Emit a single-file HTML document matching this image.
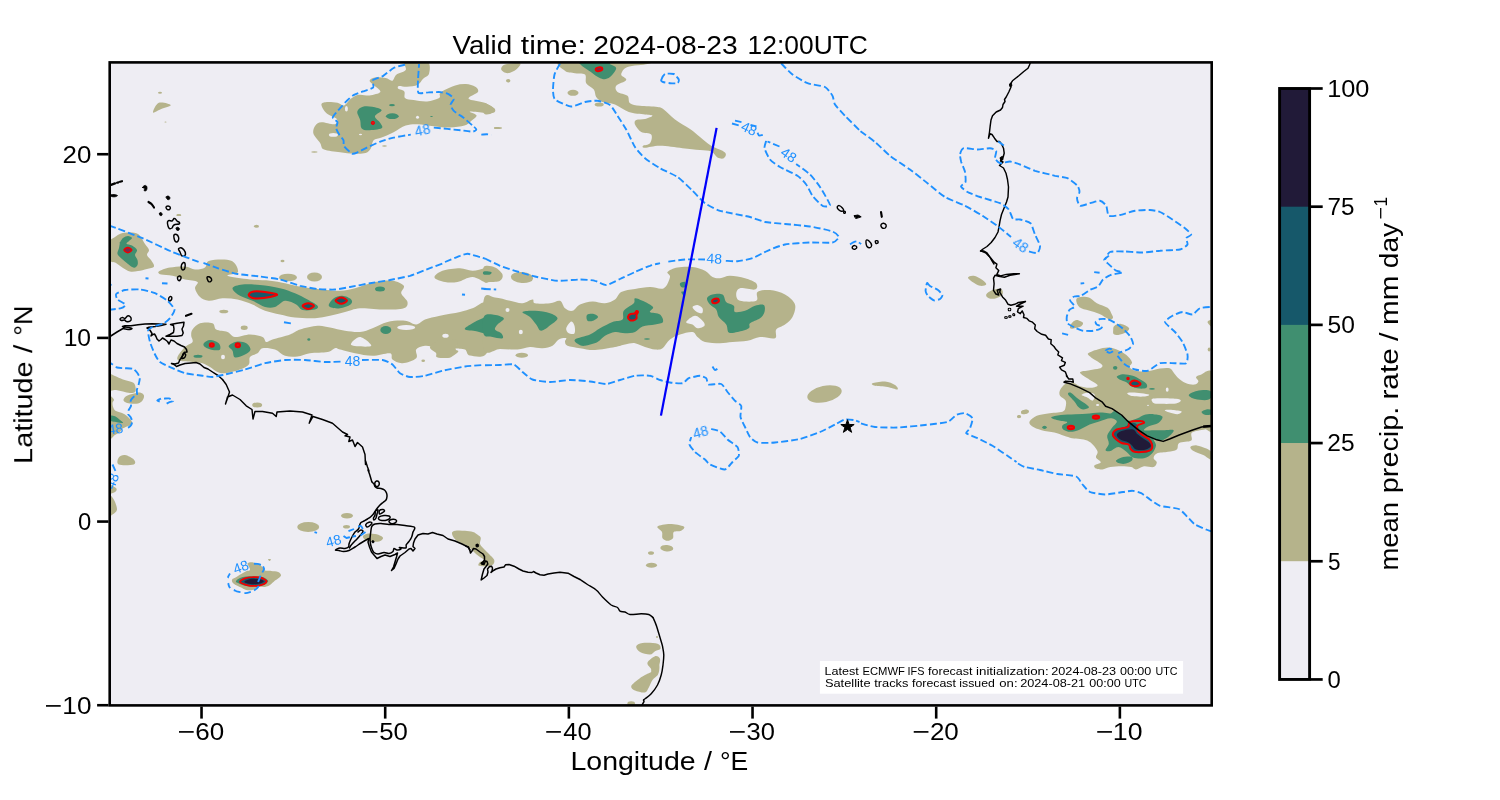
<!DOCTYPE html>
<html><head><meta charset="utf-8"><title>Forecast map</title>
<style>
html,body{margin:0;padding:0;background:#fff;}
body{width:1500px;height:800px;overflow:hidden;font-family:"Liberation Sans",sans-serif;}
svg{display:block;}
svg text{font-family:"Liberation Sans",sans-serif;fill:#000;}
.gt{filter:grayscale(1);}
</style></head><body>
<svg width="1500" height="800" viewBox="0 0 1500 800">
<rect x="0" y="0" width="1500" height="800" fill="#fff"/>
<rect x="109.7" y="62.4" width="1102.0" height="643.0" fill="#eeedf3"/>
<clipPath id="ax"><rect x="109.7" y="62.4" width="1102.0" height="643.0"/></clipPath>
<g clip-path="url(#ax)">
<g id="Lk"><path d="M405.7,61.3C409.3,59.9 423.2,59.3 427.1,61.3C431.0,63.3 429.8,70.5 429.1,73.4C428.4,76.3 425.0,76.8 423.1,78.7C421.2,80.6 420.4,83.4 417.7,84.7C415.1,86.1 410.1,86.5 407.0,86.8C403.9,87.0 400.4,85.8 399.0,86.1C397.5,86.4 397.4,87.9 398.3,88.8C399.2,89.7 403.2,89.9 404.3,91.4C405.5,93.0 403.5,96.7 405.0,98.1C406.6,99.6 410.0,99.6 413.7,100.1C417.4,100.7 422.9,101.8 427.1,101.5C431.3,101.1 437.0,99.5 439.1,98.1C441.2,96.8 438.9,94.8 439.8,93.4C440.7,92.1 441.9,91.4 444.5,90.1C447.0,88.8 451.6,86.4 455.2,85.4C458.8,84.4 462.5,83.9 465.9,84.1C469.2,84.3 473.2,85.4 475.3,86.8C477.3,88.1 479.0,90.1 477.9,92.1C476.8,94.1 467.4,97.0 468.6,98.8C469.7,100.6 480.3,101.1 484.6,102.8C489.0,104.5 493.2,107.2 494.6,108.8C496.1,110.5 495.0,112.2 493.3,112.8C491.6,113.5 488.5,113.1 484.6,112.8C480.7,112.6 471.2,111.1 469.9,111.5C468.6,112.0 476.5,113.8 476.6,115.5C476.7,117.2 472.6,119.9 470.6,121.5C468.6,123.2 468.0,124.5 464.5,125.6C461.1,126.6 455.0,127.4 449.8,127.6C444.7,127.7 439.1,126.8 433.8,126.2C428.4,125.7 422.4,124.3 417.7,124.2C413.0,124.1 409.7,124.2 405.7,125.6C401.7,126.9 397.7,130.2 393.6,132.2C389.6,134.2 384.9,136.3 381.6,137.6C378.3,138.9 375.4,138.5 373.6,140.3C371.8,142.1 372.2,146.2 370.9,148.3C369.6,150.4 368.5,152.1 365.6,153.0C362.7,153.9 357.7,153.8 353.5,153.6C349.3,153.5 345.0,153.0 340.1,152.3C335.2,151.6 327.4,151.2 324.1,149.6C320.7,148.1 321.9,145.6 320.1,142.9C318.3,140.3 314.2,136.5 313.4,133.6C312.6,130.7 314.0,127.4 315.4,125.6C316.7,123.7 318.2,122.4 321.4,122.2C324.6,122.0 332.2,124.8 334.8,124.2C337.3,123.7 338.1,120.6 336.8,118.9C335.5,117.1 329.3,115.9 326.8,113.5C324.2,111.2 321.4,106.7 321.4,104.8C321.4,102.9 324.1,102.5 326.8,102.1C329.4,101.8 334.6,102.3 337.5,102.8C340.4,103.4 341.9,106.2 344.1,105.5C346.4,104.8 348.4,100.6 350.8,98.8C353.3,97.0 355.7,95.3 358.9,94.8C362.0,94.2 366.0,95.9 369.6,95.5C373.1,95.0 379.4,93.7 380.3,92.1C381.2,90.5 376.7,88.0 374.9,86.1C373.1,84.2 369.6,82.2 369.6,80.7C369.6,79.3 372.2,77.8 374.9,77.4C377.6,76.9 382.7,77.5 385.6,78.1C388.5,78.6 390.5,81.3 392.3,80.7C394.1,80.2 394.1,76.5 396.3,74.7C398.6,72.9 404.1,72.3 405.7,70.0C407.2,67.8 402.1,62.8 405.7,61.3Z" fill="#b5b38b"/>
<ellipse cx="314.4" cy="152.0" rx="3.3" ry="0.8" fill="#b5b38b" transform="rotate(0 314.4 152.0)"/>
<ellipse cx="384.5" cy="146.0" rx="2.4" ry="0.8" fill="#b5b38b" transform="rotate(0 384.5 146.0)"/>
<ellipse cx="496.7" cy="128.0" rx="2.9" ry="1.1" fill="#b5b38b" transform="rotate(0 496.7 128.0)"/>
<ellipse cx="160.0" cy="92.8" rx="2.0" ry="1.0" fill="#b5b38b" transform="rotate(0 160.0 92.8)"/>
<path d="M153.0,112.5C152.6,111.5 155.8,104.0 158.8,102.8C161.7,101.5 170.3,104.0 170.8,105.0C171.2,106.0 164.2,107.8 161.2,109.0C158.3,110.2 153.4,113.5 153.0,112.5Z" fill="#b5b38b"/>
<ellipse cx="165.5" cy="122.0" rx="1.0" ry="0.5" fill="#b5b38b" transform="rotate(0 165.5 122.0)"/>
<ellipse cx="178.8" cy="215.0" rx="2.2" ry="1.0" fill="#b5b38b" transform="rotate(0 178.8 215.0)"/>
<ellipse cx="256.5" cy="226.2" rx="2.5" ry="1.5" fill="#b5b38b" transform="rotate(0 256.5 226.2)"/>
<ellipse cx="217.0" cy="261.5" rx="2.0" ry="1.0" fill="#b5b38b" transform="rotate(0 217.0 261.5)"/>
<ellipse cx="282.5" cy="261.0" rx="2.0" ry="1.2" fill="#b5b38b" transform="rotate(0 282.5 261.0)"/>
<path d="M109.0,242.5C110.0,238.8 113.0,238.5 115.0,237.0C117.0,235.5 118.5,234.2 121.0,233.5C123.5,232.8 127.2,232.4 130.0,232.5C132.8,232.6 136.0,232.9 138.0,234.0C140.0,235.1 140.8,237.3 142.0,239.0C143.2,240.7 143.8,242.2 145.0,244.0C146.2,245.8 148.7,248.2 149.0,250.0C149.3,251.8 146.7,253.3 147.0,255.0C147.3,256.7 149.8,258.1 151.0,260.0C152.2,261.9 154.7,265.0 154.0,266.5C153.3,268.0 149.7,268.2 147.0,269.0C144.3,269.8 140.8,270.6 138.0,271.0C135.2,271.4 132.5,272.0 130.0,271.5C127.5,271.0 125.3,269.4 123.0,268.0C120.7,266.6 118.3,264.4 116.0,263.0C113.7,261.6 110.2,262.9 109.0,259.5C107.8,256.1 108.0,246.2 109.0,242.5Z" fill="#b5b38b"/>
<ellipse cx="178.8" cy="215.2" rx="2.5" ry="0.9" fill="#b5b38b" transform="rotate(0 178.8 215.2)"/>
<path d="M563.8,60.8C550.0,62.4 563.1,68.7 565.0,70.8C566.9,72.8 571.7,72.6 575.0,73.2C578.3,73.9 583.1,72.8 585.0,74.5C586.9,76.2 584.8,80.8 586.2,83.2C587.7,85.8 592.1,87.2 593.8,89.5C595.4,91.8 594.8,94.9 596.2,97.0C597.7,99.1 599.4,100.8 602.5,102.0C605.6,103.2 610.6,102.8 615.0,104.5C619.4,106.2 623.8,110.3 628.8,112.0C633.8,113.7 641.0,113.9 645.0,114.5C649.0,115.1 652.5,115.0 652.5,115.8C652.5,116.5 647.7,118.3 645.0,119.0C642.3,119.7 637.9,119.1 636.2,120.0C634.6,120.9 634.2,122.5 635.0,124.5C635.8,126.5 638.5,130.3 641.2,132.0C644.0,133.7 649.8,132.6 651.2,134.5C652.7,136.4 651.4,141.4 650.0,143.2C648.6,145.1 643.8,145.0 643.0,145.8C642.2,146.5 642.2,147.8 645.0,147.8C647.8,147.8 653.8,145.7 660.0,145.8C666.2,145.8 675.8,147.5 682.5,148.2C689.2,149.0 695.2,149.5 700.0,150.0C704.8,150.5 708.3,150.2 711.2,151.5C714.2,152.8 715.4,156.4 717.5,157.5C719.6,158.6 722.5,159.1 723.8,158.2C725.0,157.4 727.1,154.6 725.0,152.5C722.9,150.4 715.4,148.3 711.2,145.8C707.1,143.2 703.5,139.8 700.0,137.0C696.5,134.2 694.2,131.9 690.0,129.0C685.8,126.1 679.4,122.8 675.0,119.5C670.6,116.2 666.7,111.6 663.8,109.5C660.8,107.4 661.5,107.6 657.5,107.0C653.5,106.4 644.6,106.4 640.0,105.8C635.4,105.1 632.1,104.9 630.0,103.2C627.9,101.6 629.6,97.6 627.5,95.8C625.4,93.9 619.4,93.7 617.5,92.0C615.6,90.3 614.8,87.8 616.2,85.8C617.7,83.8 625.4,81.9 626.2,80.0C627.1,78.1 621.0,76.7 621.2,74.5C621.5,72.3 623.1,68.8 627.5,67.0C631.9,65.2 644.2,65.0 647.5,64.0C650.8,63.0 661.5,61.3 647.5,60.8C633.5,60.2 577.5,59.1 563.8,60.8Z" fill="#b5b38b"/>
<path d="M501.2,69.5C500.8,68.0 501.9,65.5 505.0,64.5C508.1,63.5 518.1,62.4 520.0,63.2C521.9,64.1 518.3,67.8 516.2,69.5C514.2,71.2 510.0,73.2 507.5,73.2C505.0,73.2 501.7,71.0 501.2,69.5Z" fill="#b5b38b"/>
<ellipse cx="508.2" cy="80.8" rx="2.2" ry="1.8" fill="#b5b38b" transform="rotate(0 508.2 80.8)"/>
<ellipse cx="573.0" cy="92.8" rx="5.5" ry="3.0" fill="#b5b38b" transform="rotate(0 573.0 92.8)"/>
<path d="M483.8,103.2C485.0,102.1 489.4,105.4 491.2,106.5C493.1,107.6 495.2,108.8 495.0,110.0C494.8,111.2 491.9,113.5 490.0,114.0C488.1,114.5 484.8,115.0 483.8,113.2C482.7,111.5 482.5,104.4 483.8,103.2Z" fill="#b5b38b"/>
<ellipse cx="498.0" cy="128.0" rx="4.0" ry="1.0" fill="#b5b38b" transform="rotate(0 498.0 128.0)"/>
<ellipse cx="599.2" cy="104.5" rx="4.5" ry="2.0" fill="#b5b38b" transform="rotate(0 599.2 104.5)"/>
<path d="M158.8,271.5C160.2,270.3 165.6,268.3 170.0,267.5C174.4,266.7 180.8,266.2 185.0,266.5C189.2,266.8 191.7,269.3 195.0,269.5C198.3,269.7 202.6,269.0 205.0,267.5C207.4,266.0 205.1,261.9 209.5,260.8C213.9,259.6 226.5,258.9 231.2,260.8C236.0,262.6 238.6,269.5 238.0,272.0C237.4,274.5 225.5,274.5 227.5,275.8C229.5,277.0 242.9,278.7 250.0,279.5C257.1,280.3 264.2,280.1 270.0,280.8C275.8,281.4 279.6,282.2 285.0,283.2C290.4,284.3 296.2,286.0 302.5,287.0C308.8,288.0 316.2,288.9 322.5,289.5C328.8,290.1 334.6,291.0 340.0,290.8C345.4,290.5 349.2,289.7 355.0,288.2C360.8,286.8 368.8,283.2 375.0,282.0C381.2,280.8 387.7,280.1 392.5,280.8C397.3,281.4 402.3,283.7 403.8,285.8C405.2,287.8 400.6,290.5 401.2,293.2C401.9,296.0 407.1,299.5 407.5,302.0C407.9,304.5 407.5,307.0 403.8,308.2C400.0,309.5 392.3,309.5 385.0,309.5C377.7,309.5 366.7,307.8 360.0,308.2C353.3,308.7 350.0,310.8 345.0,312.0C340.0,313.2 335.0,314.7 330.0,315.8C325.0,316.8 320.8,318.0 315.0,318.2C309.2,318.5 300.8,318.1 295.0,317.5C289.2,316.9 285.0,315.6 280.0,314.5C275.0,313.4 269.6,312.4 265.0,310.8C260.4,309.1 257.1,306.4 252.5,304.5C247.9,302.6 242.5,300.5 237.5,299.5C232.5,298.5 227.3,298.0 222.5,298.2C217.7,298.5 212.5,301.0 208.8,300.8C205.0,300.5 202.3,299.1 200.0,297.0C197.7,294.9 195.4,290.8 195.0,288.2C194.6,285.8 199.2,283.5 197.5,282.0C195.8,280.5 189.2,280.5 185.0,279.5C180.8,278.5 176.5,276.6 172.5,275.8C168.5,274.9 163.5,275.2 161.2,274.5C159.0,273.8 157.3,272.7 158.8,271.5Z" fill="#b5b38b"/>
<ellipse cx="288.0" cy="277.5" rx="9.0" ry="3.8" fill="#b5b38b" transform="rotate(0 288.0 277.5)"/>
<ellipse cx="314.5" cy="277.0" rx="7.5" ry="4.5" fill="#b5b38b" transform="rotate(0 314.5 277.0)"/>
<path d="M434.5,277.5C434.1,275.6 438.2,272.3 442.5,270.8C446.8,269.2 455.0,268.2 460.0,268.2C465.0,268.2 467.9,270.6 472.5,270.8C477.1,270.9 485.0,267.0 487.5,269.0C490.0,271.0 490.0,281.2 487.5,282.5C485.0,283.8 477.5,277.1 472.5,277.0C467.5,276.9 462.1,281.2 457.5,282.0C452.9,282.8 448.8,282.8 445.0,282.0C441.2,281.2 434.9,279.4 434.5,277.5Z" fill="#b5b38b"/>
<path d="M192.5,329.5C194.0,327.4 196.7,324.3 200.0,323.2C203.3,322.2 209.8,322.2 212.5,323.2C215.2,324.3 213.8,328.0 216.2,329.5C218.8,331.0 224.4,330.8 227.5,332.0C230.6,333.2 231.2,336.6 235.0,337.0C238.8,337.4 245.4,334.5 250.0,334.5C254.6,334.5 259.8,335.8 262.5,337.0C265.2,338.2 264.6,341.6 266.2,342.0C267.9,342.4 268.5,340.8 272.5,339.5C276.5,338.2 285.4,336.2 290.0,334.5C294.6,332.8 295.4,331.0 300.0,329.5C304.6,328.0 312.5,326.1 317.5,325.8C322.5,325.4 325.4,326.7 330.0,327.5C334.6,328.3 340.0,330.0 345.0,330.8C350.0,331.5 355.4,332.4 360.0,332.0C364.6,331.6 367.9,329.9 372.5,328.2C377.1,326.6 382.1,323.2 387.5,322.0C392.9,320.8 400.2,320.3 405.0,320.8C409.8,321.2 412.9,324.7 416.2,324.5C419.6,324.3 421.0,321.0 425.0,319.5C429.0,318.0 434.2,317.0 440.0,315.8C445.8,314.5 454.6,313.2 460.0,312.0C465.4,310.8 467.9,309.4 472.5,308.2C477.1,307.1 485.0,297.8 487.5,305.0C490.0,312.2 490.4,343.1 487.5,351.5C484.6,359.9 473.8,355.8 470.0,355.5C466.2,355.2 467.5,350.7 465.0,349.5C462.5,348.3 456.5,349.3 455.0,348.2C453.5,347.2 458.3,344.3 456.2,343.2C454.2,342.2 445.6,341.4 442.5,342.0C439.4,342.6 440.4,346.4 437.5,347.0C434.6,347.6 428.5,345.3 425.0,345.8C421.5,346.2 417.7,347.4 416.2,349.5C414.8,351.6 418.5,356.0 416.2,358.2C414.0,360.5 406.5,363.0 402.5,363.2C398.5,363.5 394.6,361.2 392.5,359.5C390.4,357.8 393.3,353.9 390.0,353.2C386.7,352.6 378.3,355.8 372.5,355.8C366.7,355.8 360.4,354.3 355.0,353.2C349.6,352.2 343.3,350.3 340.0,349.5C336.7,348.7 337.1,347.8 335.0,348.2C332.9,348.7 331.7,351.2 327.5,352.0C323.3,352.8 315.0,352.5 310.0,353.2C305.0,354.0 301.7,356.1 297.5,356.5C293.3,356.9 288.8,356.9 285.0,355.8C281.2,354.6 278.8,350.8 275.0,349.5C271.2,348.2 265.4,347.6 262.5,348.2C259.6,348.9 259.6,351.8 257.5,353.2C255.4,354.7 251.5,355.1 250.0,357.0C248.5,358.9 250.4,362.4 248.8,364.5C247.1,366.6 244.0,368.0 240.0,369.5C236.0,371.0 228.8,372.8 225.0,373.2C221.2,373.7 220.0,373.0 217.5,372.0C215.0,371.0 212.5,368.5 210.0,367.0C207.5,365.5 205.4,364.1 202.5,363.2C199.6,362.4 196.2,362.4 192.5,362.0C188.8,361.6 182.5,361.6 180.0,360.8C177.5,359.9 176.7,359.3 177.5,357.0C178.3,354.7 182.5,349.5 185.0,347.0C187.5,344.5 191.5,343.9 192.5,342.0C193.5,340.1 191.2,337.8 191.2,335.8C191.2,333.7 191.0,331.6 192.5,329.5Z" fill="#b5b38b"/>
<ellipse cx="223.8" cy="311.5" rx="4.5" ry="1.8" fill="#b5b38b" transform="rotate(0 223.8 311.5)"/>
<ellipse cx="244.2" cy="327.8" rx="3.5" ry="2.2" fill="#b5b38b" transform="rotate(0 244.2 327.8)"/>
<ellipse cx="257.2" cy="405.0" rx="5.0" ry="2.5" fill="#b5b38b" transform="rotate(0 257.2 405.0)"/>
<ellipse cx="423.2" cy="360.8" rx="1.8" ry="1.2" fill="#b5b38b" transform="rotate(0 423.2 360.8)"/>
<path d="M109.0,374.8C110.0,372.6 112.7,375.2 115.0,376.0C117.3,376.8 120.0,378.4 123.0,379.5C126.0,380.6 130.9,381.2 133.0,382.5C135.1,383.8 135.2,385.4 135.5,387.0C135.8,388.6 135.9,391.0 135.0,392.0C134.1,393.0 132.0,393.1 130.0,393.0C128.0,392.9 125.3,392.0 123.0,391.5C120.7,391.0 118.3,390.3 116.0,390.0C113.7,389.7 110.2,392.0 109.0,389.5C107.8,387.0 108.0,377.1 109.0,374.8Z" fill="#b5b38b"/>
<path d="M123.5,399.5C123.8,398.5 124.8,397.0 126.5,396.0C128.2,395.0 131.8,394.1 134.0,393.5C136.2,392.9 138.3,392.2 140.0,392.5C141.7,392.8 143.6,394.2 144.0,395.5C144.4,396.8 143.5,399.2 142.5,400.5C141.5,401.8 140.1,403.0 138.0,403.5C135.9,404.0 132.2,403.8 130.0,403.5C127.8,403.2 126.1,402.7 125.0,402.0C123.9,401.3 123.2,400.5 123.5,399.5Z" fill="#b5b38b"/>
<path d="M109.0,399.0C109.8,392.8 113.4,398.8 114.0,399.5C114.6,400.2 112.6,401.6 112.5,403.0C112.4,404.4 112.9,406.7 113.5,408.0C114.1,409.3 114.6,410.2 116.0,411.0C117.4,411.8 120.2,412.2 122.0,413.0C123.8,413.8 125.4,414.7 127.0,416.0C128.6,417.3 130.7,419.7 131.5,421.0C132.3,422.3 132.8,423.1 132.0,424.0C131.2,424.9 128.7,425.7 127.0,426.5C125.3,427.3 123.2,428.1 122.0,429.0C120.8,429.9 121.2,431.0 120.0,432.0C118.8,433.0 116.8,434.2 115.0,435.0C113.2,435.8 110.0,442.5 109.0,436.5C108.0,430.5 108.2,405.2 109.0,399.0Z" fill="#b5b38b"/>
<path d="M118.8,457.5C119.8,455.9 122.5,454.7 125.0,455.0C127.5,455.3 132.3,457.9 133.8,459.5C135.2,461.1 136.2,463.7 133.8,464.5C131.2,465.3 121.2,465.7 118.8,464.5C116.2,463.3 117.7,459.1 118.8,457.5Z" fill="#b5b38b"/>
<path d="M430.0,347.0C430.7,344.8 435.5,341.2 440.0,340.0C444.5,338.8 454.4,338.5 457.0,340.0C459.6,341.5 455.4,347.1 455.6,349.0C455.8,350.9 458.7,350.2 458.4,351.2C458.1,352.2 455.7,354.1 454.0,355.2C452.3,356.3 450.8,357.7 448.0,358.0C445.2,358.3 439.0,358.0 437.0,357.2C435.0,356.4 437.2,354.7 436.0,353.0C434.8,351.3 429.3,349.2 430.0,347.0Z" fill="#b5b38b"/>
<path d="M483.8,299.5C485.6,290.9 490.6,297.3 495.0,297.5C499.4,297.7 505.4,299.8 510.0,300.8C514.6,301.7 518.8,303.5 522.5,303.2C526.2,303.0 530.4,299.5 532.5,299.5C534.6,299.5 532.1,302.6 535.0,303.2C537.9,303.9 545.8,303.7 550.0,303.2C554.2,302.8 557.5,299.9 560.0,300.8C562.5,301.6 562.9,306.6 565.0,308.2C567.1,309.9 570.0,311.4 572.5,310.8C575.0,310.1 576.7,306.0 580.0,304.5C583.3,303.0 588.3,301.7 592.5,301.5C596.7,301.3 601.2,303.6 605.0,303.2C608.8,302.9 612.3,301.4 615.0,299.5C617.7,297.6 617.9,293.8 621.2,292.0C624.6,290.2 630.2,289.8 635.0,289.0C639.8,288.2 645.2,287.1 650.0,287.0C654.8,286.9 660.4,289.9 663.8,288.2C667.1,286.6 669.4,279.7 670.0,277.0C670.6,274.3 666.2,273.6 667.5,272.0C668.8,270.4 673.3,268.3 677.5,267.5C681.7,266.7 687.9,266.5 692.5,267.0C697.1,267.5 701.7,269.1 705.0,270.8C708.3,272.4 710.0,275.8 712.5,277.0C715.0,278.2 717.1,278.5 720.0,278.2C722.9,278.0 725.8,275.8 730.0,275.8C734.2,275.8 740.6,277.0 745.0,278.2C749.4,279.5 754.6,281.4 756.2,283.2C757.9,285.1 757.7,288.7 755.0,289.5C752.3,290.3 743.1,287.4 740.0,288.2C736.9,289.1 736.2,292.4 736.2,294.5C736.2,296.6 736.7,299.7 740.0,300.8C743.3,301.8 753.3,302.2 756.2,300.8C759.2,299.3 755.2,293.8 757.5,292.0C759.8,290.2 765.4,289.6 770.0,290.0C774.6,290.4 780.8,292.1 785.0,294.5C789.2,296.9 793.8,300.8 795.0,304.5C796.2,308.2 794.2,313.7 792.5,317.0C790.8,320.3 787.7,322.4 785.0,324.5C782.3,326.6 777.9,327.2 776.2,329.5C774.6,331.8 777.7,337.0 775.0,338.2C772.3,339.5 764.6,336.6 760.0,337.0C755.4,337.4 752.1,339.9 747.5,340.8C742.9,341.6 737.1,341.6 732.5,342.0C727.9,342.4 724.6,343.2 720.0,343.2C715.4,343.2 708.8,343.0 705.0,342.0C701.2,341.0 699.6,338.7 697.5,337.0C695.4,335.3 695.4,332.4 692.5,332.0C689.6,331.6 683.8,333.2 680.0,334.5C676.2,335.8 672.9,337.2 670.0,339.5C667.1,341.8 665.0,346.6 662.5,348.2C660.0,349.9 657.9,349.7 655.0,349.5C652.1,349.3 648.3,348.0 645.0,347.0C641.7,346.0 638.3,343.7 635.0,343.2C631.7,342.8 628.3,343.9 625.0,344.5C621.7,345.1 620.0,346.1 615.0,347.0C610.0,347.9 600.8,349.8 595.0,350.0C589.2,350.2 584.6,349.0 580.0,348.2C575.4,347.5 570.0,346.9 567.5,345.8C565.0,344.6 565.2,342.8 565.0,341.5C564.8,340.2 567.3,338.6 566.2,338.2C565.2,337.9 561.0,338.2 558.8,339.5C556.5,340.8 555.2,344.3 552.5,345.8C549.8,347.2 546.2,348.0 542.5,348.2C538.8,348.5 534.2,346.8 530.0,347.0C525.8,347.2 522.5,349.2 517.5,349.5C512.5,349.8 505.6,349.0 500.0,349.0C494.4,349.0 486.5,357.5 483.8,349.2C481.0,341.0 481.9,308.1 483.8,299.5Z" fill="#b5b38b"/>
<path d="M483.8,267.0C485.6,264.8 491.9,266.2 495.0,267.5C498.1,268.8 501.7,272.3 502.5,274.5C503.3,276.7 502.1,279.5 500.0,280.8C497.9,282.0 492.7,282.0 490.0,282.0C487.3,282.0 484.8,283.5 483.8,281.0C482.7,278.5 481.9,269.2 483.8,267.0Z" fill="#b5b38b"/>
<ellipse cx="522.0" cy="277.5" rx="11.2" ry="5.5" fill="#b5b38b" transform="rotate(5 522.0 277.5)"/>
<ellipse cx="521.8" cy="355.2" rx="6.2" ry="2.5" fill="#b5b38b" transform="rotate(0 521.8 355.2)"/>
<ellipse cx="824.5" cy="394.0" rx="17.5" ry="8.2" fill="#b5b38b" transform="rotate(-12 824.5 394.0)"/>
<path d="M968.0,277.5C968.2,276.5 971.3,275.3 973.8,275.8C976.2,276.2 980.4,278.5 982.5,280.0C984.6,281.5 986.7,283.5 986.2,284.5C985.8,285.5 982.3,286.2 980.0,285.8C977.7,285.3 974.5,283.4 972.5,282.0C970.5,280.6 967.8,278.5 968.0,277.5Z" fill="#b5b38b"/>
<path d="M986.2,294.5C986.9,293.1 990.0,290.9 992.5,290.0C995.0,289.1 999.6,288.2 1001.2,289.0C1002.9,289.8 1003.3,293.0 1002.5,294.5C1001.7,296.0 998.5,297.6 996.2,298.2C994.0,298.9 990.4,298.9 988.8,298.2C987.1,297.6 985.6,295.9 986.2,294.5Z" fill="#b5b38b"/>
<path d="M1076.2,299.8C1076.4,298.1 1078.7,297.5 1080.8,297.1C1083.0,296.8 1086.2,296.5 1088.9,297.5C1091.5,298.5 1093.8,301.4 1096.9,303.2C1100.0,304.9 1105.1,306.1 1107.6,307.8C1110.0,309.6 1110.7,312.2 1111.6,313.9C1112.5,315.5 1113.4,317.0 1112.9,317.9C1112.5,318.8 1111.2,319.9 1108.9,319.2C1106.7,318.5 1102.9,315.3 1099.6,313.9C1096.2,312.4 1092.2,311.6 1088.9,310.5C1085.5,309.4 1081.6,309.0 1079.5,307.2C1077.4,305.4 1075.9,301.5 1076.2,299.8Z" fill="#b5b38b"/>
<path d="M1070.1,325.9C1070.5,324.8 1071.7,322.9 1072.8,321.9C1073.9,320.9 1075.2,319.8 1076.8,319.9C1078.5,320.0 1082.1,321.6 1082.8,322.6C1083.6,323.6 1082.7,325.0 1081.5,325.9C1080.3,326.8 1077.3,327.5 1075.5,327.9C1073.7,328.4 1071.7,328.9 1070.8,328.6C1069.9,328.2 1069.8,327.0 1070.1,325.9Z" fill="#b5b38b"/>
<path d="M1113.2,329.9C1113.3,328.6 1113.0,326.9 1114.3,325.9C1115.6,324.9 1118.5,323.6 1121.0,323.9C1123.4,324.2 1128.2,326.5 1129.0,327.9C1129.8,329.4 1127.4,331.4 1125.7,332.6C1123.9,333.8 1120.3,334.8 1118.3,335.0C1116.3,335.2 1114.5,334.8 1113.6,333.9C1112.8,333.1 1113.1,331.3 1113.2,329.9Z" fill="#b5b38b"/>
<path d="M872.5,383.2C874.2,382.5 881.2,381.2 885.0,381.5C888.8,381.8 892.9,383.7 895.0,385.0C897.1,386.3 898.8,389.2 897.5,389.5C896.2,389.8 891.2,387.6 887.5,387.0C883.8,386.4 877.5,386.4 875.0,385.8C872.5,385.1 870.8,384.0 872.5,383.2Z" fill="#b5b38b"/>
<ellipse cx="1025.0" cy="412.0" rx="4.0" ry="2.0" fill="#b5b38b" transform="rotate(-15 1025.0 412.0)"/>
<ellipse cx="1019.2" cy="416.5" rx="1.8" ry="1.5" fill="#b5b38b" transform="rotate(0 1019.2 416.5)"/>
<path d="M1207.5,322.0C1207.5,320.8 1211.7,319.1 1212.5,320.0C1213.3,320.9 1213.3,327.2 1212.5,327.5C1211.7,327.8 1207.5,323.2 1207.5,322.0Z" fill="#b5b38b"/>
<ellipse cx="1209.2" cy="349.5" rx="1.5" ry="2.0" fill="#b5b38b" transform="rotate(0 1209.2 349.5)"/>
<path d="M1088.0,353.4C1089.1,352.1 1094.1,350.4 1097.6,349.4C1101.1,348.4 1105.3,347.3 1108.8,347.5C1112.3,347.6 1115.5,348.9 1118.4,350.2C1121.3,351.5 1124.1,353.0 1126.4,355.0C1128.7,357.0 1131.5,360.2 1132.0,362.2C1132.5,364.2 1128.9,365.5 1129.6,367.0C1130.3,368.5 1132.8,370.3 1136.0,371.0C1139.2,371.7 1144.8,371.4 1148.8,371.0C1152.8,370.6 1156.5,369.1 1160.0,368.6C1163.5,368.1 1167.3,367.6 1169.6,368.3C1171.9,368.9 1172.3,371.1 1173.6,372.6C1174.9,374.1 1175.6,375.7 1177.6,377.4C1179.6,379.1 1182.8,381.8 1185.6,383.0C1188.4,384.2 1192.3,384.9 1194.4,384.6C1196.5,384.3 1198.1,382.6 1198.4,381.4C1198.7,380.2 1195.7,378.5 1196.0,377.4C1196.3,376.3 1197.2,375.5 1200.0,375.0C1202.8,374.5 1210.7,365.4 1212.8,374.2C1214.9,383.0 1214.1,418.6 1212.8,427.8C1211.5,437.0 1208.3,428.6 1204.8,429.4C1201.3,430.2 1194.3,430.7 1192.0,432.6C1189.7,434.5 1193.3,438.9 1191.2,440.6C1189.1,442.3 1181.6,441.5 1179.2,443.0C1176.8,444.5 1178.7,447.9 1176.8,449.4C1174.9,450.9 1171.3,451.1 1168.0,451.8C1164.7,452.5 1159.2,452.3 1156.8,453.4C1154.4,454.5 1153.6,456.7 1153.6,458.2C1153.6,459.7 1156.8,460.7 1156.8,462.2C1156.8,463.7 1155.7,466.3 1153.6,467.0C1151.5,467.7 1146.9,465.8 1144.0,466.2C1141.1,466.6 1138.1,469.3 1136.0,469.4C1133.9,469.5 1133.6,467.5 1131.2,467.0C1128.8,466.5 1125.1,466.2 1121.6,466.2C1118.1,466.2 1113.6,466.5 1110.4,467.0C1107.2,467.5 1104.8,469.1 1102.4,469.4C1100.0,469.7 1097.3,469.3 1096.0,468.6C1094.7,467.9 1093.6,466.5 1094.4,465.4C1095.2,464.3 1100.5,463.5 1100.8,462.2C1101.1,460.9 1096.5,459.1 1096.0,457.4C1095.5,455.7 1098.0,453.8 1097.6,451.8C1097.2,449.8 1095.3,447.3 1093.6,445.4C1091.9,443.5 1089.5,441.7 1087.2,440.6C1084.9,439.5 1082.5,439.4 1080.0,439.0C1077.5,438.6 1074.7,438.7 1072.0,438.2C1069.3,437.7 1066.9,436.7 1064.0,435.8C1061.1,434.9 1058.1,433.5 1054.4,432.6C1050.7,431.7 1045.3,431.3 1041.6,430.2C1037.9,429.1 1034.0,427.7 1032.0,426.2C1030.0,424.7 1028.8,423.1 1029.6,421.4C1030.4,419.7 1033.7,417.1 1036.8,415.8C1039.9,414.5 1043.7,414.1 1048.0,413.4C1052.3,412.7 1059.5,412.9 1062.4,411.8C1065.3,410.7 1065.1,408.9 1065.6,407.0C1066.1,405.1 1066.5,402.5 1065.6,400.6C1064.7,398.7 1060.9,397.5 1060.0,395.8C1059.1,394.1 1059.1,392.2 1060.0,390.2C1060.9,388.2 1063.3,385.0 1065.6,383.8C1067.9,382.6 1071.2,382.6 1073.6,383.0C1076.0,383.4 1077.3,385.4 1080.0,386.2C1082.7,387.0 1086.7,387.9 1089.6,387.8C1092.5,387.7 1097.6,386.7 1097.6,385.4C1097.6,384.1 1092.5,381.9 1089.6,379.8C1086.7,377.7 1080.0,374.2 1080.0,372.6C1080.0,371.0 1086.4,370.9 1089.6,370.2C1092.8,369.5 1097.1,369.4 1099.2,368.6C1101.3,367.8 1102.9,366.7 1102.4,365.4C1101.9,364.1 1097.9,361.9 1096.0,360.6C1094.1,359.3 1092.5,358.6 1091.2,357.4C1089.9,356.2 1086.9,354.7 1088.0,353.4Z" fill="#b5b38b"/>
<path d="M1190.4,447.0C1190.9,446.1 1194.1,445.1 1196.8,445.4C1199.5,445.7 1203.7,447.3 1206.4,448.6C1209.1,449.9 1211.7,451.4 1212.8,453.4C1213.9,455.4 1214.4,460.3 1212.8,460.6C1211.2,460.9 1206.4,456.6 1203.2,455.0C1200.0,453.4 1195.7,452.3 1193.6,451.0C1191.5,449.7 1189.9,447.9 1190.4,447.0Z" fill="#b5b38b"/>
<ellipse cx="1024.8" cy="411.8" rx="3.8" ry="2.1" fill="#b5b38b" transform="rotate(-10 1024.8 411.8)"/>
<ellipse cx="1018.9" cy="416.6" rx="1.9" ry="1.6" fill="#b5b38b" transform="rotate(0 1018.9 416.6)"/>
<ellipse cx="308.2" cy="527.0" rx="11.0" ry="5.0" fill="#b5b38b" transform="rotate(0 308.2 527.0)"/>
<ellipse cx="347.0" cy="515.8" rx="6.0" ry="2.8" fill="#b5b38b" transform="rotate(0 347.0 515.8)"/>
<ellipse cx="346.5" cy="526.7" rx="3.5" ry="1.8" fill="#b5b38b" transform="rotate(0 346.5 526.7)"/>
<path d="M363.0,536.0C363.5,535.0 366.0,533.8 368.0,533.5C370.0,533.2 372.8,533.6 375.0,534.0C377.2,534.4 379.7,535.2 381.0,536.0C382.3,536.8 383.3,537.6 383.0,538.5C382.7,539.4 380.8,541.0 379.0,541.5C377.2,542.0 374.3,541.8 372.0,541.5C369.7,541.2 366.5,540.4 365.0,539.5C363.5,538.6 362.5,537.0 363.0,536.0Z" fill="#b5b38b"/>
<path d="M108.8,484.5C110.0,483.7 115.2,487.0 116.2,488.2C117.3,489.5 116.2,491.2 115.0,492.0C113.8,492.8 109.8,494.5 108.8,493.2C107.7,492.0 107.5,485.3 108.8,484.5Z" fill="#b5b38b"/>
<path d="M108.8,495.8C109.6,493.2 112.4,497.2 113.8,499.5C115.1,501.8 117.2,507.0 117.0,509.5C116.8,512.0 113.9,513.6 112.5,514.5C111.1,515.4 109.4,518.1 108.8,515.0C108.1,511.9 107.9,498.3 108.8,495.8Z" fill="#b5b38b"/>
<path d="M122.5,460.8C123.3,460.2 131.7,460.2 132.5,460.8C133.3,461.3 129.2,464.0 127.5,464.0C125.8,464.0 121.7,461.3 122.5,460.8Z" fill="#b5b38b"/>
<path d="M232.2,579.4C232.7,578.5 234.1,578.4 235.6,577.5C237.1,576.6 239.5,575.1 241.2,574.1C243.0,573.0 244.8,571.9 246.2,571.2C247.7,570.6 249.6,570.8 250.0,570.0C250.4,569.2 249.2,567.3 248.8,566.2C248.3,565.2 247.1,564.1 247.5,563.4C247.9,562.8 250.0,562.2 251.2,562.2C252.5,562.1 253.5,562.7 255.0,563.1C256.5,563.6 258.6,564.2 260.0,565.0C261.4,565.8 262.3,567.2 263.1,568.1C264.0,569.1 263.6,570.2 265.0,570.6C266.4,571.1 269.1,570.7 271.2,570.9C273.4,571.1 276.5,571.2 278.1,571.9C279.7,572.5 280.6,573.9 280.9,574.7C281.2,575.5 281.0,575.9 280.0,576.9C279.0,577.9 276.7,579.3 275.0,580.6C273.3,582.0 271.7,584.0 270.0,585.0C268.3,586.0 266.9,586.6 265.0,586.9C263.1,587.2 260.8,586.4 258.8,586.9C256.7,587.4 254.6,589.5 252.5,590.0C250.4,590.5 248.1,590.4 246.2,590.0C244.4,589.6 243.0,588.3 241.2,587.5C239.5,586.7 237.1,585.8 235.6,585.0C234.2,584.2 233.1,583.4 232.5,582.5C231.9,581.6 231.7,580.2 232.2,579.4Z" fill="#b5b38b"/>
<path d="M268.1,559.2C268.4,559.0 270.7,559.1 270.9,559.4C271.2,559.7 270.0,561.0 269.5,560.9C269.0,560.9 267.9,559.5 268.1,559.2Z" fill="#b5b38b"/>
<path d="M452.0,532.5C452.5,531.2 454.8,530.8 457.0,530.5C459.2,530.2 462.3,530.5 465.0,530.8C467.7,531.0 470.8,531.3 473.0,532.0C475.2,532.7 476.7,534.0 478.0,535.0C479.3,536.0 480.5,536.5 480.8,538.0C481.1,539.5 479.5,542.2 480.0,544.0C480.5,545.8 482.5,547.3 484.0,549.0C485.5,550.7 487.3,552.2 489.0,554.0C490.7,555.8 493.2,557.8 494.0,559.5C494.8,561.2 494.3,562.9 493.5,564.0C492.7,565.1 490.6,565.6 489.0,566.0C487.4,566.4 485.8,566.3 484.0,566.2C482.2,566.1 479.2,566.2 478.5,565.5C477.8,564.8 479.1,562.9 480.0,562.0C480.9,561.1 484.0,560.8 484.0,560.0C484.0,559.2 481.3,558.0 480.0,557.0C478.7,556.0 477.3,555.2 476.0,554.0C474.7,552.8 473.3,551.3 472.0,550.0C470.7,548.7 469.5,547.2 468.0,546.2C466.5,545.2 464.7,544.8 463.0,544.0C461.3,543.2 459.5,542.5 458.0,541.5C456.5,540.5 455.0,539.5 454.0,538.0C453.0,536.5 451.5,533.8 452.0,532.5Z" fill="#b5b38b"/>
<path d="M657.5,526.5C658.8,525.2 665.6,524.0 670.0,524.0C674.4,524.0 681.9,525.4 683.8,526.5C685.6,527.6 682.9,529.8 681.2,530.8C679.6,531.7 675.1,530.8 673.8,532.0C672.4,533.2 674.0,536.8 673.0,538.2C672.0,539.7 669.2,540.8 667.5,540.8C665.8,540.8 663.4,539.7 662.5,538.2C661.6,536.8 662.8,534.0 662.0,532.0C661.2,530.0 656.2,527.8 657.5,526.5Z" fill="#b5b38b"/>
<ellipse cx="666.8" cy="548.2" rx="6.5" ry="3.2" fill="#b5b38b" transform="rotate(5 666.8 548.2)"/>
<ellipse cx="651.0" cy="553.0" rx="3.0" ry="1.8" fill="#b5b38b" transform="rotate(0 651.0 553.0)"/>
<ellipse cx="651.5" cy="565.2" rx="5.5" ry="2.5" fill="#b5b38b" transform="rotate(0 651.5 565.2)"/>
<path d="M636.2,646.2C636.7,644.8 639.0,643.4 642.5,643.0C646.0,642.6 654.5,642.8 657.5,643.8C660.5,644.7 660.9,647.5 660.5,648.8C660.1,650.0 656.8,650.3 655.0,651.2C653.2,652.2 652.5,654.4 650.0,654.5C647.5,654.6 642.3,653.4 640.0,652.0C637.7,650.6 635.8,647.8 636.2,646.2Z" fill="#b5b38b"/>
<path d="M647.5,662.5C648.3,660.6 652.9,656.9 655.0,656.2C657.1,655.6 659.4,657.1 660.0,658.8C660.6,660.4 659.6,664.2 658.8,666.2C657.9,668.3 656.5,671.0 655.0,671.2C653.5,671.5 651.2,669.0 650.0,667.5C648.8,666.0 646.7,664.4 647.5,662.5Z" fill="#b5b38b"/>
<path d="M631.2,686.2C631.7,684.5 635.2,681.9 637.5,680.0C639.8,678.1 642.1,676.5 645.0,675.0C647.9,673.5 652.9,671.2 655.0,671.2C657.1,671.2 657.9,673.5 657.5,675.0C657.1,676.5 654.0,677.9 652.5,680.0C651.0,682.1 650.0,685.4 648.8,687.5C647.5,689.6 647.3,692.0 645.0,692.5C642.7,693.0 637.3,691.5 635.0,690.5C632.7,689.5 630.8,688.0 631.2,686.2Z" fill="#b5b38b"/>
<ellipse cx="631.2" cy="703.5" rx="3.8" ry="2.2" fill="#b5b38b" transform="rotate(0 631.2 703.5)"/>
<ellipse cx="657.0" cy="637.0" rx="1.0" ry="1.0" fill="#b5b38b" transform="rotate(0 657.0 637.0)"/>
<path d="M652.0,665.5C653.2,663.6 658.0,663.0 659.0,664.5C660.0,666.0 659.2,672.6 658.0,674.5C656.8,676.4 653.0,677.5 652.0,676.0C651.0,674.5 650.8,667.4 652.0,665.5Z" fill="#b5b38b"/></g>
<g id="Lh"><ellipse cx="346.4" cy="108.8" rx="1.5" ry="2.8" fill="#eeedf3" transform="rotate(0 346.4 108.8)"/>
<ellipse cx="333.4" cy="134.9" rx="4.5" ry="1.9" fill="#eeedf3" transform="rotate(0 333.4 134.9)"/>
<ellipse cx="360.5" cy="134.5" rx="1.6" ry="0.8" fill="#eeedf3" transform="rotate(0 360.5 134.5)"/>
<ellipse cx="417.5" cy="117.3" rx="1.5" ry="1.5" fill="#eeedf3" transform="rotate(0 417.5 117.3)"/>
<ellipse cx="406.2" cy="327.5" rx="9.0" ry="2.5" fill="#eeedf3" transform="rotate(0 406.2 327.5)"/>
<path d="M351.2,345.0C349.4,343.5 356.7,336.8 360.0,337.0C363.3,337.2 372.7,344.7 371.2,346.0C369.8,347.3 353.1,346.5 351.2,345.0Z" fill="#eeedf3"/>
<ellipse cx="445.5" cy="335.8" rx="3.2" ry="2.0" fill="#eeedf3" transform="rotate(0 445.5 335.8)"/>
<ellipse cx="223.0" cy="357.0" rx="2.0" ry="2.2" fill="#eeedf3" transform="rotate(0 223.0 357.0)"/>
<ellipse cx="507.5" cy="310.0" rx="2.0" ry="2.0" fill="#eeedf3" transform="rotate(0 507.5 310.0)"/>
<path d="M566.2,328.2C566.7,326.3 569.9,321.9 571.2,321.5C572.6,321.1 574.0,323.8 574.5,325.8C575.0,327.7 575.5,332.0 574.5,333.2C573.5,334.5 570.1,334.1 568.8,333.2C567.4,332.4 565.8,330.2 566.2,328.2Z" fill="#eeedf3"/>
<ellipse cx="520.8" cy="332.0" rx="2.0" ry="2.2" fill="#eeedf3" transform="rotate(0 520.8 332.0)"/>
<path d="M692.5,307.0C692.7,305.9 695.8,304.8 697.5,305.0C699.2,305.2 701.8,306.9 702.5,308.2C703.2,309.6 703.0,312.7 702.0,313.2C701.0,313.8 697.8,312.5 696.2,311.5C694.7,310.5 692.3,308.1 692.5,307.0Z" fill="#eeedf3"/>
<path d="M686.2,322.0C686.7,320.5 692.3,316.0 695.0,315.8C697.7,315.5 700.9,319.1 702.5,320.8C704.1,322.4 705.3,324.5 704.5,325.8C703.7,327.0 699.5,328.5 697.5,328.2C695.5,328.0 694.4,325.5 692.5,324.5C690.6,323.5 685.8,323.5 686.2,322.0Z" fill="#eeedf3"/>
<path d="M1081.6,395.0C1081.5,394.3 1084.3,393.1 1086.4,392.9C1088.5,392.8 1093.3,392.9 1094.4,394.2C1095.5,395.5 1094.0,400.1 1092.8,400.6C1091.6,401.1 1089.1,398.3 1087.2,397.4C1085.3,396.5 1081.7,395.7 1081.6,395.0Z" fill="#eeedf3"/>
<path d="M1127.2,393.4C1127.2,392.8 1129.2,392.4 1132.8,392.6C1136.4,392.8 1146.9,393.9 1148.8,394.5C1150.7,395.2 1146.7,396.3 1144.0,396.6C1141.3,396.9 1135.6,396.7 1132.8,396.1C1130.0,395.6 1127.2,394.0 1127.2,393.4Z" fill="#eeedf3"/>
<path d="M1152.0,399.0C1153.1,398.2 1156.0,398.3 1160.0,398.2C1164.0,398.1 1172.5,398.3 1176.0,398.7C1179.5,399.1 1180.8,399.8 1180.8,400.6C1180.8,401.4 1179.5,402.9 1176.0,403.5C1172.5,404.0 1163.7,403.9 1160.0,403.8C1156.3,403.7 1154.9,403.8 1153.6,403.0C1152.3,402.2 1150.9,399.8 1152.0,399.0Z" fill="#eeedf3"/>
<path d="M1164.8,410.2C1165.3,409.7 1170.0,409.7 1172.8,409.9C1175.6,410.1 1180.8,410.8 1181.6,411.5C1182.4,412.2 1179.6,414.0 1177.6,414.2C1175.6,414.4 1171.7,413.3 1169.6,412.6C1167.5,411.9 1164.3,410.7 1164.8,410.2Z" fill="#eeedf3"/>
<ellipse cx="1167.2" cy="389.7" rx="1.4" ry="2.1" fill="#eeedf3" transform="rotate(0 1167.2 389.7)"/>
<ellipse cx="1097.6" cy="405.1" rx="1.6" ry="1.0" fill="#eeedf3" transform="rotate(0 1097.6 405.1)"/>
<ellipse cx="1148.0" cy="405.4" rx="0.8" ry="0.6" fill="#eeedf3" transform="rotate(0 1148.0 405.4)"/></g>
<g id="Lg"><path d="M357.3,111.5C357.7,109.3 360.4,107.6 362.9,106.8C365.4,106.0 369.1,106.3 372.2,106.8C375.4,107.4 381.2,108.6 381.6,110.2C382.1,111.7 375.1,114.1 374.9,116.2C374.7,118.3 379.2,120.9 380.3,122.9C381.4,124.9 383.6,127.0 381.6,128.2C379.6,129.5 371.6,130.2 368.2,130.2C364.9,130.2 362.9,129.9 361.5,128.2C360.2,126.6 360.9,123.0 360.2,120.2C359.5,117.4 356.8,113.7 357.3,111.5Z" fill="#408f70"/>
<ellipse cx="392.3" cy="116.2" rx="6.4" ry="2.9" fill="#408f70" transform="rotate(0 392.3 116.2)"/>
<ellipse cx="392.0" cy="105.2" rx="2.9" ry="1.1" fill="#408f70" transform="rotate(0 392.0 105.2)"/>
<ellipse cx="431.5" cy="116.5" rx="1.3" ry="0.5" fill="#408f70" transform="rotate(0 431.5 116.5)"/>
<path d="M119.0,244.0C119.5,243.3 121.5,239.3 123.0,238.0C124.5,236.7 126.5,236.0 128.0,236.0C129.5,236.0 131.8,237.2 132.0,238.0C132.2,238.8 129.9,240.0 129.0,241.0C128.1,242.0 126.0,243.1 126.5,243.8C127.0,244.6 130.2,244.5 132.0,245.5C133.8,246.5 136.5,248.4 137.0,250.0C137.5,251.6 134.9,253.3 135.0,255.0C135.1,256.7 137.1,258.3 137.5,260.0C137.9,261.7 138.1,263.7 137.5,265.0C136.9,266.3 135.6,268.0 134.0,267.8C132.4,267.6 130.0,265.5 128.0,264.0C126.0,262.5 123.8,260.7 122.0,259.0C120.2,257.3 118.0,255.8 117.5,254.0C117.0,252.2 118.6,250.0 119.0,248.0C119.4,246.0 120.0,242.7 120.0,242.0C120.0,241.3 118.5,244.7 119.0,244.0Z" fill="#408f70"/>
<path d="M578.8,60.8C575.8,62.8 588.5,70.2 592.5,73.2C596.5,76.3 599.6,78.4 602.5,79.0C605.4,79.6 607.7,78.8 610.0,77.0C612.3,75.2 616.2,70.4 616.2,68.2C616.2,66.1 611.0,65.2 610.0,64.0C609.0,62.8 615.2,61.3 610.0,60.8C604.8,60.2 581.7,58.7 578.8,60.8Z" fill="#408f70"/>
<path d="M232.5,288.2C232.9,286.4 237.9,285.0 242.5,284.5C247.1,284.0 253.8,284.4 260.0,285.0C266.2,285.6 274.2,286.9 280.0,288.2C285.8,289.6 290.4,291.4 295.0,293.2C299.6,295.1 303.8,297.4 307.5,299.5C311.2,301.6 316.2,304.1 317.5,305.8C318.8,307.4 317.5,308.8 315.0,309.5C312.5,310.2 305.6,310.8 302.5,310.0C299.4,309.2 299.2,306.0 296.2,304.5C293.3,303.0 288.5,300.3 285.0,300.8C281.5,301.2 278.3,306.0 275.0,307.0C271.7,308.0 268.8,308.0 265.0,307.0C261.2,306.0 256.7,302.6 252.5,300.8C248.3,298.9 243.3,297.8 240.0,295.8C236.7,293.7 232.1,290.1 232.5,288.2Z" fill="#408f70"/>
<path d="M328.8,304.5C329.2,303.0 331.5,299.7 333.8,298.2C336.0,296.8 339.6,295.5 342.5,295.8C345.4,296.0 349.9,298.0 351.2,299.5C352.6,301.0 352.4,303.0 350.5,304.5C348.6,306.0 343.2,307.8 340.0,308.2C336.8,308.8 333.1,308.1 331.2,307.5C329.4,306.9 328.3,306.0 328.8,304.5Z" fill="#408f70"/>
<ellipse cx="380.0" cy="289.0" rx="5.0" ry="2.5" fill="#408f70" transform="rotate(0 380.0 289.0)"/>
<path d="M203.8,343.2C204.6,342.1 207.5,340.0 210.0,340.0C212.5,340.0 217.1,341.7 218.8,343.2C220.4,344.8 221.0,348.4 220.0,349.5C219.0,350.6 215.0,350.4 212.5,350.0C210.0,349.6 206.5,348.1 205.0,347.0C203.5,345.9 202.9,344.4 203.8,343.2Z" fill="#408f70"/>
<path d="M228.8,345.8C229.6,344.2 234.6,341.9 237.5,341.5C240.4,341.1 244.1,341.9 246.2,343.2C248.4,344.6 250.7,347.6 250.5,349.5C250.3,351.4 247.6,353.2 245.0,354.5C242.4,355.8 237.1,358.1 235.0,357.5C232.9,356.9 233.5,352.7 232.5,350.8C231.5,348.8 227.9,347.3 228.8,345.8Z" fill="#408f70"/>
<ellipse cx="198.0" cy="356.2" rx="4.5" ry="1.5" fill="#408f70" transform="rotate(0 198.0 356.2)"/>
<ellipse cx="385.8" cy="330.0" rx="5.5" ry="4.0" fill="#408f70" transform="rotate(0 385.8 330.0)"/>
<path d="M465.0,328.2C467.1,325.9 483.8,316.3 487.5,317.0C491.2,317.7 489.6,330.2 487.5,332.5C485.4,334.8 478.8,331.7 475.0,331.0C471.2,330.3 462.9,330.6 465.0,328.2Z" fill="#408f70"/>
<ellipse cx="308.8" cy="339.5" rx="1.5" ry="1.2" fill="#408f70" transform="rotate(0 308.8 339.5)"/>
<path d="M109.0,415.8C110.0,415.1 113.2,415.5 115.0,416.2C116.8,416.9 118.7,418.9 120.0,420.0C121.3,421.1 123.5,422.6 123.0,423.0C122.5,423.4 119.3,422.7 117.0,422.2C114.7,421.7 110.3,421.3 109.0,420.2C107.7,419.1 108.0,416.5 109.0,415.8Z" fill="#408f70"/>
<path d="M483.8,271.5C485.0,271.1 490.2,271.5 491.2,272.0C492.3,272.5 491.2,274.1 490.0,274.5C488.8,274.9 484.8,275.0 483.8,274.5C482.7,274.0 482.5,271.9 483.8,271.5Z" fill="#408f70"/>
<path d="M483.8,317.0C485.2,313.7 489.2,314.3 492.5,314.5C495.8,314.7 502.9,316.6 503.8,318.2C504.6,319.9 499.0,322.6 497.5,324.5C496.0,326.4 494.4,328.0 495.0,329.5C495.6,331.0 500.0,331.8 501.2,333.2C502.5,334.7 504.0,337.6 502.5,338.2C501.0,338.9 495.6,337.6 492.5,337.0C489.4,336.4 485.2,337.8 483.8,334.5C482.3,331.2 482.3,320.3 483.8,317.0Z" fill="#408f70"/>
<path d="M522.5,312.0C523.3,311.0 530.4,310.5 535.0,310.8C539.6,311.0 546.2,312.0 550.0,313.2C553.8,314.5 557.3,316.4 557.5,318.2C557.7,320.1 554.0,322.4 551.2,324.5C548.5,326.6 543.8,330.8 541.2,330.8C538.8,330.8 538.1,326.8 536.2,324.5C534.4,322.2 532.3,319.1 530.0,317.0C527.7,314.9 521.7,313.0 522.5,312.0Z" fill="#408f70"/>
<path d="M587.0,315.0C588.0,313.9 591.9,313.7 593.8,314.0C595.6,314.3 598.1,315.9 598.0,317.0C597.9,318.1 594.8,320.1 593.0,320.8C591.2,321.4 588.5,321.7 587.5,320.8C586.5,319.8 586.0,316.1 587.0,315.0Z" fill="#408f70"/>
<path d="M575.0,339.5C576.9,337.8 585.8,336.4 590.0,334.5C594.2,332.6 596.2,330.3 600.0,328.2C603.8,326.2 608.8,323.5 612.5,322.0C616.2,320.5 620.6,321.4 622.5,319.5C624.4,317.6 621.9,313.5 623.8,310.8C625.6,308.0 631.9,305.3 633.8,303.2C635.6,301.2 633.5,298.7 635.0,298.2C636.5,297.8 639.5,299.3 642.5,300.8C645.5,302.2 651.8,305.1 653.0,307.0C654.2,308.9 648.8,310.8 650.0,312.0C651.2,313.2 657.8,312.8 660.0,314.5C662.2,316.2 663.8,320.3 663.0,322.0C662.2,323.7 658.4,323.8 655.0,324.5C651.6,325.2 645.8,325.2 642.5,326.5C639.2,327.8 637.9,330.9 635.0,332.0C632.1,333.1 628.3,333.2 625.0,333.2C621.7,333.2 618.3,331.6 615.0,332.0C611.7,332.4 607.9,334.1 605.0,335.8C602.1,337.4 600.8,340.3 597.5,342.0C594.2,343.7 588.1,345.3 585.0,345.8C581.9,346.2 580.4,345.5 578.8,344.5C577.1,343.5 573.1,341.2 575.0,339.5Z" fill="#408f70"/>
<path d="M680.0,283.2C680.6,282.4 684.2,281.4 685.0,282.0C685.8,282.6 685.6,286.2 685.0,287.0C684.4,287.8 682.1,287.6 681.2,287.0C680.4,286.4 679.4,284.1 680.0,283.2Z" fill="#408f70"/>
<path d="M681.2,292.0C681.4,291.4 684.1,291.4 684.5,292.0C684.9,292.6 684.3,295.8 683.8,295.8C683.2,295.8 681.1,292.6 681.2,292.0Z" fill="#408f70"/>
<path d="M707.0,298.2C707.4,296.6 709.9,295.1 712.5,294.5C715.1,293.9 720.2,293.2 722.5,294.5C724.8,295.8 724.4,300.1 726.2,302.0C728.1,303.9 732.3,304.1 733.8,305.8C735.2,307.4 733.1,311.2 735.0,312.0C736.9,312.8 741.7,311.8 745.0,310.8C748.3,309.7 751.9,306.7 755.0,305.8C758.1,304.8 762.2,304.0 763.8,305.0C765.3,306.0 765.1,309.8 764.5,312.0C763.9,314.2 762.4,316.4 760.0,318.2C757.6,320.1 751.9,321.6 750.0,323.2C748.1,324.9 750.8,326.8 748.8,328.2C746.7,329.7 740.8,331.3 737.5,332.0C734.2,332.7 730.6,333.8 728.8,332.5C726.9,331.2 727.9,327.1 726.2,324.5C724.6,321.9 720.4,319.5 718.8,317.0C717.1,314.5 717.7,311.6 716.2,309.5C714.8,307.4 711.5,306.4 710.0,304.5C708.5,302.6 706.6,299.9 707.0,298.2Z" fill="#408f70"/>
<ellipse cx="647.0" cy="339.0" rx="3.0" ry="0.8" fill="#408f70" transform="rotate(0 647.0 339.0)"/>
<path d="M1116.8,376.6C1117.3,375.7 1120.5,374.3 1123.2,374.2C1125.9,374.1 1129.9,374.9 1132.8,375.8C1135.7,376.7 1138.5,378.5 1140.8,379.8C1143.1,381.1 1145.5,382.5 1146.4,383.8C1147.3,385.1 1147.6,387.0 1146.4,387.8C1145.2,388.6 1141.7,388.9 1139.2,388.6C1136.7,388.3 1133.3,387.3 1131.2,386.2C1129.1,385.1 1128.3,383.3 1126.4,382.2C1124.5,381.1 1121.6,380.7 1120.0,379.8C1118.4,378.9 1116.3,377.5 1116.8,376.6Z" fill="#408f70"/>
<ellipse cx="1115.2" cy="367.8" rx="2.2" ry="1.9" fill="#408f70" transform="rotate(0 1115.2 367.8)"/>
<ellipse cx="1152.0" cy="388.9" rx="2.9" ry="0.8" fill="#408f70" transform="rotate(0 1152.0 388.9)"/>
<path d="M1068.0,394.2C1067.5,392.8 1069.5,392.1 1071.2,392.9C1072.9,393.7 1075.9,397.1 1078.4,399.0C1080.9,400.9 1084.7,403.1 1086.4,404.6C1088.1,406.1 1089.3,407.0 1088.8,407.8C1088.3,408.6 1084.9,409.5 1083.2,409.4C1081.5,409.3 1079.9,408.3 1078.4,407.0C1076.9,405.7 1076.1,403.5 1074.4,401.4C1072.7,399.3 1068.5,395.6 1068.0,394.2Z" fill="#408f70"/>
<path d="M1051.2,417.4C1051.5,416.5 1056.8,415.5 1060.8,415.0C1064.8,414.5 1070.4,414.5 1075.2,414.2C1080.0,413.9 1085.1,413.7 1089.6,413.4C1094.1,413.1 1098.9,412.6 1102.4,412.6C1105.9,412.6 1108.3,413.7 1110.4,413.4C1112.5,413.1 1113.3,410.7 1115.2,411.0C1117.1,411.3 1119.5,413.4 1121.6,415.0C1123.7,416.6 1125.3,420.1 1128.0,420.6C1130.7,421.1 1134.9,419.1 1137.6,418.2C1140.3,417.3 1141.3,415.7 1144.0,415.0C1146.7,414.3 1150.5,413.9 1153.6,414.2C1156.7,414.5 1161.6,415.1 1162.4,416.6C1163.2,418.1 1160.7,421.4 1158.4,423.0C1156.1,424.6 1151.2,425.0 1148.8,426.2C1146.4,427.4 1143.2,429.5 1144.0,430.2C1144.8,430.9 1150.1,430.2 1153.6,430.2C1157.1,430.2 1161.5,430.2 1164.8,430.2C1168.1,430.2 1172.8,429.3 1173.6,430.2C1174.4,431.1 1171.6,434.1 1169.6,435.8C1167.6,437.5 1164.3,440.1 1161.6,440.6C1158.9,441.1 1154.5,438.2 1153.6,439.0C1152.7,439.8 1156.3,443.0 1156.0,445.4C1155.7,447.8 1154.0,451.3 1152.0,453.4C1150.0,455.5 1147.2,457.5 1144.0,458.2C1140.8,458.9 1135.7,458.5 1132.8,457.4C1129.9,456.3 1128.8,453.5 1126.4,451.8C1124.0,450.1 1121.1,447.1 1118.4,447.0C1115.7,446.9 1112.5,450.5 1110.4,451.0C1108.3,451.5 1105.9,451.4 1105.6,450.2C1105.3,449.0 1108.5,446.2 1108.8,443.8C1109.1,441.4 1106.7,438.5 1107.2,435.8C1107.7,433.1 1110.4,430.2 1112.0,427.8C1113.6,425.4 1117.1,423.0 1116.8,421.4C1116.5,419.8 1113.3,418.2 1110.4,418.2C1107.5,418.2 1102.7,420.3 1099.2,421.4C1095.7,422.5 1092.8,423.3 1089.6,424.6C1086.4,425.9 1083.2,428.2 1080.0,429.4C1076.8,430.6 1073.2,431.8 1070.4,431.8C1067.6,431.8 1064.5,430.5 1063.2,429.4C1061.9,428.3 1061.7,426.6 1062.4,425.4C1063.1,424.2 1067.7,423.0 1067.2,422.2C1066.7,421.4 1061.9,421.4 1059.2,420.6C1056.5,419.8 1050.9,418.3 1051.2,417.4Z" fill="#408f70"/>
<path d="M1116.0,460.6C1116.5,459.7 1119.1,458.1 1121.6,457.4C1124.1,456.7 1129.5,456.1 1131.2,456.6C1132.9,457.1 1133.1,459.4 1132.0,460.6C1130.9,461.8 1127.1,463.4 1124.8,463.8C1122.5,464.2 1119.9,463.5 1118.4,463.0C1116.9,462.5 1115.5,461.5 1116.0,460.6Z" fill="#408f70"/>
<path d="M1188.8,395.0C1189.1,393.7 1193.6,391.8 1196.8,391.0C1200.0,390.2 1205.3,389.7 1208.0,390.2C1210.7,390.7 1212.8,392.6 1212.8,394.2C1212.8,395.8 1210.9,399.0 1208.0,399.8C1205.1,400.6 1198.4,399.8 1195.2,399.0C1192.0,398.2 1188.5,396.3 1188.8,395.0Z" fill="#408f70"/>
<path d="M1201.6,411.8C1201.9,410.9 1204.5,409.7 1206.4,409.4C1208.3,409.1 1211.7,409.4 1212.8,410.2C1213.9,411.0 1214.1,413.5 1212.8,414.2C1211.5,414.9 1206.7,415.1 1204.8,414.7C1202.9,414.3 1201.3,412.7 1201.6,411.8Z" fill="#408f70"/>
<ellipse cx="1044.5" cy="427.3" rx="2.2" ry="1.6" fill="#408f70" transform="rotate(0 1044.5 427.3)"/>
<path d="M235.9,581.2C236.2,580.4 238.3,578.9 240.0,578.1C241.7,577.3 244.0,576.9 246.2,576.6C248.5,576.2 251.0,576.2 253.8,576.2C256.5,576.3 260.3,576.4 262.5,576.9C264.7,577.4 265.9,578.6 266.9,579.4C267.8,580.1 268.4,580.4 268.1,581.2C267.8,582.1 266.6,583.5 265.0,584.4C263.4,585.2 261.2,585.9 258.8,586.2C256.2,586.6 252.7,586.8 250.0,586.6C247.3,586.4 244.5,585.6 242.5,585.0C240.5,584.4 239.2,583.8 238.1,583.1C237.0,582.5 235.6,582.1 235.9,581.2Z" fill="#408f70"/></g>
<g id="Lt"><path d="M1112.0,434.2C1112.4,432.6 1114.4,430.7 1116.8,429.4C1119.2,428.1 1124.3,427.3 1126.4,426.2C1128.5,425.1 1128.0,423.4 1129.6,423.0C1131.2,422.6 1134.4,422.7 1136.0,423.8C1137.6,424.9 1137.9,427.5 1139.2,429.4C1140.5,431.3 1142.0,433.1 1144.0,435.0C1146.0,436.9 1149.7,438.6 1151.2,440.6C1152.7,442.6 1153.2,445.1 1152.8,447.0C1152.4,448.9 1151.3,450.9 1148.8,451.8C1146.3,452.7 1140.5,452.9 1137.6,452.6C1134.7,452.3 1132.8,451.5 1131.2,450.2C1129.6,448.9 1129.9,445.9 1128.0,444.6C1126.1,443.3 1122.3,443.1 1120.0,442.2C1117.7,441.3 1115.7,440.3 1114.4,439.0C1113.1,437.7 1111.6,435.8 1112.0,434.2Z" fill="#16586a"/>
<path d="M240.0,581.6C240.2,580.6 242.9,579.2 245.0,578.4C247.1,577.7 250.0,577.3 252.5,577.2C255.0,577.0 257.9,577.1 260.0,577.5C262.1,577.9 263.9,579.0 265.0,579.7C266.1,580.4 266.8,580.8 266.6,581.6C266.4,582.3 265.3,583.4 263.8,584.1C262.2,584.8 259.8,585.5 257.5,585.8C255.2,586.0 252.3,586.0 250.0,585.8C247.7,585.5 245.4,584.8 243.8,584.1C242.1,583.4 239.8,582.5 240.0,581.6Z" fill="#16586a"/></g>
<g id="Ld"><path d="M1116.8,435.0C1116.9,433.5 1118.9,431.9 1121.6,431.0C1124.3,430.1 1130.1,428.9 1132.8,429.4C1135.5,429.9 1135.7,432.6 1137.6,434.2C1139.5,435.8 1142.0,437.5 1144.0,439.0C1146.0,440.5 1148.5,441.7 1149.6,443.0C1150.7,444.3 1151.3,445.9 1150.4,447.0C1149.5,448.1 1146.4,449.5 1144.0,449.9C1141.6,450.3 1138.0,450.1 1136.0,449.4C1134.0,448.7 1133.3,446.6 1132.0,445.4C1130.7,444.2 1129.9,443.1 1128.0,442.2C1126.1,441.3 1122.7,441.0 1120.8,439.8C1118.9,438.6 1116.7,436.5 1116.8,435.0Z" fill="#211a38"/>
<path d="M244.4,581.6C244.6,580.9 247.0,579.8 248.8,579.4C250.5,578.9 252.9,578.8 255.0,578.9C257.1,578.9 259.8,579.2 261.2,579.7C262.7,580.1 264.0,580.9 263.8,581.6C263.5,582.2 261.7,583.0 260.0,583.4C258.3,583.9 255.8,584.2 253.8,584.2C251.7,584.2 249.1,583.9 247.5,583.4C245.9,583.0 244.2,582.2 244.4,581.6Z" fill="#211a38"/></g>
<g id="Lr"><ellipse cx="372.9" cy="122.9" rx="1.6" ry="1.6" fill="#e8101a" stroke="#f00000" stroke-width="1.0" transform="rotate(0 372.9 122.9)"/>
<path d="M124.0,250.0C124.0,249.1 126.5,247.4 127.8,247.4C129.1,247.4 131.8,249.1 131.8,250.0C131.8,250.9 129.1,252.7 127.8,252.7C126.5,252.7 124.0,250.9 124.0,250.0Z" fill="#7a2a50" stroke="#f00000" stroke-width="1.5" stroke-linejoin="round"/>
<ellipse cx="599.0" cy="69.2" rx="3.5" ry="2.0" fill="#8a2445" stroke="#f00000" stroke-width="1.7" transform="rotate(-8 599.0 69.2)"/>
<path d="M248.8,294.5C249.2,293.5 251.0,291.9 253.8,291.5C256.5,291.1 261.1,291.5 265.0,292.0C268.9,292.5 276.2,293.7 277.0,294.5C277.8,295.3 273.2,296.3 270.0,297.0C266.8,297.7 260.6,298.4 257.5,298.5C254.4,298.6 252.7,298.2 251.2,297.5C249.8,296.8 248.3,295.5 248.8,294.5Z" fill="#16586a" stroke="#f00000" stroke-width="2.0" stroke-linejoin="round"/>
<path d="M302.5,306.0C302.5,305.0 306.3,303.2 308.2,303.2C310.2,303.2 314.0,305.0 314.0,306.0C314.0,307.0 310.2,309.0 308.2,309.0C306.3,309.0 302.5,307.0 302.5,306.0Z" fill="#16586a" stroke="#f00000" stroke-width="2.0" stroke-linejoin="round"/>
<path d="M335.5,300.5C335.5,299.5 339.3,297.5 341.2,297.5C343.2,297.5 347.0,299.5 347.0,300.5C347.0,301.5 343.2,303.8 341.2,303.8C339.3,303.8 335.5,301.5 335.5,300.5Z" fill="#16586a" stroke="#f00000" stroke-width="2.0" stroke-linejoin="round"/>
<ellipse cx="211.8" cy="345.0" rx="2.0" ry="1.8" fill="#e8101a" stroke="#f00000" stroke-width="2.0" transform="rotate(0 211.8 345.0)"/>
<ellipse cx="237.8" cy="345.2" rx="2.2" ry="2.0" fill="#e8101a" stroke="#f00000" stroke-width="2.0" transform="rotate(0 237.8 345.2)"/>
<path d="M628.0,317.0C628.2,316.0 629.4,314.6 630.5,314.0C631.6,313.4 633.5,314.0 634.5,313.5C635.5,313.0 635.9,311.2 636.5,311.0C637.1,310.8 638.0,311.3 638.0,312.0C638.0,312.7 636.8,313.9 636.5,315.0C636.2,316.1 637.1,317.6 636.5,318.5C635.9,319.4 634.2,320.3 633.0,320.5C631.8,320.7 630.3,320.3 629.5,319.8C628.7,319.2 627.8,318.0 628.0,317.0Z" fill="#16586a" stroke="#f00000" stroke-width="2.0" stroke-linejoin="round"/>
<ellipse cx="715.5" cy="300.8" rx="3.5" ry="2.2" fill="#16586a" stroke="#f00000" stroke-width="2.0" transform="rotate(-15 715.5 300.8)"/>
<path d="M1112.8,434.2C1112.9,432.6 1114.3,430.6 1116.8,429.4C1119.3,428.2 1125.9,428.2 1128.0,427.0C1130.1,425.8 1127.5,423.2 1129.6,422.2C1131.7,421.2 1138.4,420.9 1140.8,421.1C1143.2,421.2 1144.5,422.3 1144.0,423.0C1143.5,423.7 1138.7,424.2 1137.6,425.4C1136.5,426.6 1136.8,428.6 1137.6,430.2C1138.4,431.8 1140.5,433.5 1142.4,435.0C1144.3,436.5 1147.2,437.4 1148.8,439.0C1150.4,440.6 1151.6,442.9 1152.0,444.6C1152.4,446.3 1152.5,448.2 1151.2,449.4C1149.9,450.6 1146.8,451.4 1144.0,451.8C1141.2,452.2 1136.7,452.3 1134.4,451.8C1132.1,451.3 1131.3,449.8 1130.4,448.6C1129.5,447.4 1130.3,445.5 1128.8,444.6C1127.3,443.7 1123.7,443.9 1121.6,443.0C1119.5,442.1 1117.5,440.5 1116.0,439.0C1114.5,437.5 1112.7,435.8 1112.8,434.2Z" fill="none" stroke="#f00000" stroke-width="2.0" stroke-linejoin="round"/>
<ellipse cx="1128.0" cy="378.5" rx="1.0" ry="1.0" fill="#e8101a" stroke="#f00000" stroke-width="1.5" transform="rotate(0 1128.0 378.5)"/>
<path d="M1130.4,382.7C1131.0,382.0 1132.8,380.5 1134.4,380.6C1136.0,380.7 1139.1,382.2 1140.0,383.0C1140.9,383.8 1140.5,384.7 1139.5,385.2C1138.6,385.8 1135.8,386.3 1134.4,386.2C1133.0,386.1 1131.5,385.5 1130.9,384.9C1130.2,384.3 1129.8,383.4 1130.4,382.7Z" fill="#16586a" stroke="#f00000" stroke-width="2.0" stroke-linejoin="round"/>
<ellipse cx="1096.0" cy="417.1" rx="3.2" ry="1.6" fill="#e8101a" stroke="#f00000" stroke-width="2.0" transform="rotate(0 1096.0 417.1)"/>
<ellipse cx="1070.9" cy="427.5" rx="3.2" ry="1.8" fill="#e8101a" stroke="#f00000" stroke-width="2.0" transform="rotate(0 1070.9 427.5)"/>
<path d="M240.0,581.6C240.2,580.6 242.9,579.2 245.0,578.4C247.1,577.7 250.0,577.3 252.5,577.2C255.0,577.0 257.9,577.1 260.0,577.5C262.1,577.9 263.9,579.0 265.0,579.7C266.1,580.4 266.8,580.8 266.6,581.6C266.4,582.3 265.3,583.4 263.8,584.1C262.2,584.8 259.8,585.5 257.5,585.8C255.2,586.0 252.3,586.0 250.0,585.8C247.7,585.5 245.4,584.8 243.8,584.1C242.1,583.4 239.8,582.5 240.0,581.6Z" fill="none" stroke="#f00000" stroke-width="1.8" stroke-linejoin="round"/></g>
<g id="Lc"><path d="M111.0,184.8L115.0,183.4" fill="none" stroke="#000" stroke-width="2.35" stroke-linejoin="round" stroke-linecap="round"/>
<path d="M117.0,182.8L118.5,182.4" fill="none" stroke="#000" stroke-width="2.15" stroke-linejoin="round" stroke-linecap="round"/>
<path d="M120.0,181.8L122.0,181.2" fill="none" stroke="#000" stroke-width="2.15" stroke-linejoin="round" stroke-linecap="round"/>
<path d="M111.0,195.0C111.4,194.7 112.9,194.4 114.0,194.5C115.1,194.6 117.3,195.1 117.5,195.5C117.7,195.9 116.0,196.6 115.0,196.8C114.0,197.0 112.2,196.8 111.5,196.5C110.8,196.2 110.6,195.3 111.0,195.0Z" fill="#000" stroke="#000" stroke-width="0.8" stroke-linejoin="round" stroke-linecap="round"/>
<path d="M142.5,187.5C142.5,187.0 143.8,185.8 144.5,185.5C145.2,185.2 146.1,185.5 146.5,186.0C146.9,186.5 147.1,187.7 147.0,188.5C146.9,189.3 146.5,190.5 146.0,190.8C145.5,191.1 144.2,190.9 144.0,190.5C143.8,190.1 144.9,189.0 144.7,188.5C144.4,188.0 142.5,188.0 142.5,187.5Z" fill="#000" stroke="#000" stroke-width="0.8" stroke-linejoin="round" stroke-linecap="round"/>
<path d="M166.2,197.0C166.3,196.4 167.4,196.0 168.0,196.0C168.6,196.0 169.6,196.7 169.8,197.2C170.1,197.7 169.9,198.8 169.5,199.2C169.1,199.6 168.1,199.9 167.5,199.5C166.9,199.1 166.1,197.6 166.2,197.0Z" fill="#000" stroke="#000" stroke-width="0.8" stroke-linejoin="round" stroke-linecap="round"/>
<path d="M148.5,202.0C149.0,202.3 150.6,203.1 151.5,204.0C152.4,204.9 153.6,206.9 154.0,207.5" fill="none" stroke="#000" stroke-width="2.15" stroke-linejoin="round" stroke-linecap="round"/>
<path d="M166.0,207.2C166.1,206.6 167.3,206.0 168.0,206.0C168.7,206.0 169.9,206.7 170.2,207.2C170.5,207.7 170.2,208.8 169.8,209.2C169.4,209.6 168.1,209.9 167.5,209.6C166.9,209.3 165.9,207.8 166.0,207.2Z" fill="none" stroke="#000" stroke-width="1.45" stroke-linejoin="round" stroke-linecap="round"/>
<path d="M159.5,213.2C159.7,212.7 160.6,212.3 161.0,212.4C161.4,212.5 162.1,213.5 162.2,214.0C162.3,214.5 161.9,215.4 161.5,215.6C161.1,215.8 160.1,215.6 159.8,215.2C159.5,214.8 159.3,213.7 159.5,213.2Z" fill="#000" stroke="#000" stroke-width="0.8" stroke-linejoin="round" stroke-linecap="round"/>
<path d="M167.5,222.0C167.7,221.1 168.2,220.7 169.0,220.5C169.8,220.3 171.2,221.3 172.0,221.0C172.8,220.7 173.4,218.8 174.0,218.5C174.6,218.2 175.0,218.6 175.5,219.0C176.0,219.4 176.3,220.4 177.0,221.0C177.7,221.6 179.2,222.0 179.5,222.5C179.8,223.0 179.8,223.7 179.0,224.0C178.2,224.3 176.0,224.2 175.0,224.5C174.0,224.8 173.5,225.4 173.0,226.0C172.5,226.6 172.6,227.6 172.0,228.0C171.4,228.4 170.2,228.8 169.5,228.5C168.8,228.2 168.3,227.1 168.0,226.0C167.7,224.9 167.3,222.9 167.5,222.0Z" fill="none" stroke="#000" stroke-width="1.45" stroke-linejoin="round" stroke-linecap="round"/>
<path d="M176.2,228.0C176.4,227.5 177.3,227.1 177.8,227.2C178.3,227.3 179.2,227.9 179.4,228.4C179.6,228.9 179.2,229.9 178.8,230.2C178.4,230.5 177.2,230.6 176.8,230.2C176.4,229.8 176.0,228.5 176.2,228.0Z" fill="#000" stroke="#000" stroke-width="0.8" stroke-linejoin="round" stroke-linecap="round"/>
<path d="M174.0,235.0C174.4,234.4 175.8,234.2 176.5,234.5C177.2,234.8 178.2,236.1 178.5,237.0C178.8,237.9 178.8,239.2 178.5,240.0C178.2,240.8 177.6,241.8 177.0,242.0C176.4,242.2 175.5,241.7 175.0,241.0C174.5,240.3 174.2,239.0 174.0,238.0C173.8,237.0 173.6,235.6 174.0,235.0Z" fill="none" stroke="#000" stroke-width="1.45" stroke-linejoin="round" stroke-linecap="round"/>
<path d="M178.5,249.0C178.7,248.3 180.1,247.6 181.0,247.8C181.9,248.0 183.2,249.0 184.0,250.0C184.8,251.0 185.5,253.0 185.5,254.0C185.5,255.0 184.7,255.8 184.0,256.0C183.3,256.2 182.2,256.2 181.5,255.5C180.8,254.8 180.5,253.1 180.0,252.0C179.5,250.9 178.3,249.7 178.5,249.0Z" fill="none" stroke="#000" stroke-width="1.45" stroke-linejoin="round" stroke-linecap="round"/>
<path d="M181.5,265.0C181.8,264.0 182.9,262.8 183.5,262.5C184.1,262.2 184.8,262.7 185.0,263.5C185.2,264.3 185.2,266.4 185.0,267.5C184.8,268.6 184.1,269.6 183.5,269.8C182.9,270.0 181.8,269.3 181.5,268.5C181.2,267.7 181.2,266.0 181.5,265.0Z" fill="none" stroke="#000" stroke-width="1.45" stroke-linejoin="round" stroke-linecap="round"/>
<path d="M177.5,277.5C177.7,276.8 178.9,276.1 179.5,276.0C180.1,275.9 180.8,276.4 181.0,277.0C181.2,277.6 180.9,278.9 180.5,279.5C180.1,280.1 179.0,280.8 178.5,280.5C178.0,280.2 177.3,278.2 177.5,277.5Z" fill="none" stroke="#000" stroke-width="1.45" stroke-linejoin="round" stroke-linecap="round"/>
<path d="M207.0,277.5C207.1,276.7 208.2,276.6 209.0,276.8C209.8,277.1 211.2,278.3 211.5,279.0C211.8,279.7 211.5,280.8 211.0,281.2C210.5,281.6 209.2,282.1 208.5,281.5C207.8,280.9 206.9,278.3 207.0,277.5Z" fill="none" stroke="#000" stroke-width="1.45" stroke-linejoin="round" stroke-linecap="round"/>
<path d="M168.8,298.0C169.1,297.3 170.0,296.6 170.5,296.5C171.0,296.4 171.7,296.9 171.8,297.5C171.9,298.1 171.7,299.4 171.2,300.0C170.7,300.6 169.4,301.1 169.0,300.8C168.6,300.5 168.6,298.7 168.8,298.0Z" fill="none" stroke="#000" stroke-width="1.45" stroke-linejoin="round" stroke-linecap="round"/>
<path d="M186.0,315.8L191.5,313.8" fill="none" stroke="#000" stroke-width="2.15" stroke-linejoin="round" stroke-linecap="round"/>
<path d="M1030.5,62.0L1029.5,65.0L1028.0,68.2L1023.8,71.5L1018.8,75.8L1012.5,80.8L1010.0,84.5L1011.0,87.0L1008.8,92.0L1006.2,97.0L1004.5,99.5L1005.0,101.5L1003.0,104.5L1002.5,107.5L1000.5,110.0L996.2,112.0L992.5,115.8L991.0,120.0L990.2,125.8L989.5,132.0L988.5,138.2L990.0,133.8L992.0,134.5L994.5,138.2L997.0,141.5L999.5,141.5L1001.5,144.0L1003.5,148.2L1004.2,153.2L1003.2,157.0L1000.5,161.0L1003.0,162.0L999.5,165.5L1003.5,168.0L1006.0,173.2L1007.5,179.5L1008.5,187.0L1008.0,197.0L1006.5,202.0L1004.5,207.0L1001.5,214.5L1000.0,220.8L999.2,225.8L998.0,232.0L995.0,237.5L991.2,242.5L987.0,246.5L983.0,249.0L980.5,251.0L983.5,251.0L987.0,253.0L989.5,256.5L992.0,260.8L994.0,264.0" fill="none" stroke="#000" stroke-width="1.45" stroke-linejoin="round" stroke-linecap="round"/>
<path d="M1000.2,158.0L1002.2,156.5L1003.0,159.0L1001.2,160.8Z" fill="#000" stroke="#000" stroke-width="1.2" stroke-linejoin="round" stroke-linecap="round"/>
<path d="M1009.8,84.0L1011.5,83.2L1011.8,86.0L1010.2,86.5Z" fill="#000" stroke="#000" stroke-width="1.0" stroke-linejoin="round" stroke-linecap="round"/>
<path d="M837.2,207.2C837.3,206.5 838.3,205.5 839.2,205.6C840.1,205.7 841.7,207.2 842.4,208.0C843.1,208.8 843.8,209.9 843.6,210.4C843.4,210.9 842.1,211.3 841.2,211.2C840.3,211.1 839.1,210.3 838.4,209.6C837.7,208.9 837.1,207.9 837.2,207.2Z" fill="none" stroke="#000" stroke-width="1.45" stroke-linejoin="round" stroke-linecap="round"/>
<path d="M843.8,211.6C844.0,211.4 845.0,211.4 845.2,211.6C845.4,211.8 845.4,212.8 845.2,213.0C845.0,213.2 844.0,213.2 843.8,213.0C843.6,212.8 843.6,211.8 843.8,211.6Z" fill="none" stroke="#000" stroke-width="1.3499999999999999" stroke-linejoin="round" stroke-linecap="round"/>
<path d="M854.4,215.6L858.0,215.0L861.2,216.8L858.4,217.8L856.0,218.4Z" fill="#000" stroke="#000" stroke-width="1.0" stroke-linejoin="round" stroke-linecap="round"/>
<path d="M881.0,212.0L881.8,216.8" fill="none" stroke="#000" stroke-width="2.15" stroke-linejoin="round" stroke-linecap="round"/>
<path d="M881.2,224.4C881.6,223.8 882.8,223.1 883.6,223.2C884.4,223.3 885.7,224.1 886.0,224.8C886.3,225.5 886.1,227.0 885.6,227.6C885.1,228.2 883.5,228.4 882.8,228.2C882.1,228.0 881.5,227.2 881.2,226.6C880.9,226.0 880.8,225.0 881.2,224.4Z" fill="none" stroke="#000" stroke-width="1.45" stroke-linejoin="round" stroke-linecap="round"/>
<path d="M866.4,240.0C866.9,239.7 868.1,240.2 869.0,241.0C869.9,241.8 871.4,243.9 871.6,245.0C871.8,246.1 870.8,247.4 870.0,247.6C869.2,247.8 867.7,247.2 867.0,246.4C866.3,245.6 866.1,244.1 866.0,243.0C865.9,241.9 865.9,240.3 866.4,240.0Z" fill="none" stroke="#000" stroke-width="1.45" stroke-linejoin="round" stroke-linecap="round"/>
<path d="M875.4,241.0C875.7,240.6 877.2,240.5 877.6,240.8C878.0,241.1 878.3,242.4 878.0,242.8C877.7,243.2 876.4,243.7 876.0,243.4C875.6,243.1 875.1,241.4 875.4,241.0Z" fill="none" stroke="#000" stroke-width="1.45" stroke-linejoin="round" stroke-linecap="round"/>
<path d="M852.4,246.8C852.7,246.3 854.1,245.5 854.8,245.6C855.5,245.7 856.7,246.6 856.8,247.2C856.9,247.8 855.9,248.9 855.2,249.2C854.5,249.5 853.3,249.2 852.8,248.8C852.3,248.4 852.1,247.3 852.4,246.8Z" fill="none" stroke="#000" stroke-width="1.45" stroke-linejoin="round" stroke-linecap="round"/>
<path d="M109.0,337.0L110.8,336.0L117.0,332.0L123.0,328.5L125.0,327.0L122.5,326.5L125.0,325.8L131.0,325.8L138.0,324.8L145.0,324.0L152.0,323.8L159.0,324.0L166.0,324.3L161.0,325.5L155.0,326.5L149.0,327.2L147.0,328.0L149.0,329.0L150.5,331.0L152.0,333.5L151.0,336.0L153.0,334.5L154.5,334.0L156.0,336.5L157.0,339.0L159.0,341.0L161.0,339.5L162.5,338.0L165.0,339.5L167.5,341.5L169.0,344.0L170.0,342.0L171.0,340.0L174.0,341.0L177.0,343.5L181.0,345.5L184.5,347.0L186.5,349.5L187.0,352.0L184.5,352.2L183.0,354.0L182.0,357.0L181.0,358.5L180.0,359.5L178.5,363.0L175.0,364.0L171.5,363.5L174.0,364.5L176.5,366.5L180.0,365.0L185.0,363.5L191.0,363.0L196.0,362.5L200.0,364.0L204.0,367.5L208.0,369.0L212.5,372.0L218.0,375.5L222.5,379.5" fill="none" stroke="#000" stroke-width="1.5" stroke-linejoin="round" stroke-linecap="round"/>
<path d="M125.0,327.0C125.9,326.8 127.8,327.2 129.0,327.5C130.2,327.8 131.8,328.2 132.0,328.5C132.2,328.8 130.9,329.4 130.0,329.5C129.1,329.6 127.6,329.4 126.5,329.2C125.4,329.0 123.8,328.9 123.5,328.5C123.2,328.1 124.1,327.2 125.0,327.0Z" fill="none" stroke="#000" stroke-width="1.45" stroke-linejoin="round" stroke-linecap="round"/>
<path d="M181.2,358.3C181.5,358.6 183.3,358.4 184.0,358.0C184.7,357.6 185.4,356.4 185.6,355.6C185.8,354.9 185.3,353.7 185.0,353.5C184.7,353.3 184.0,354.0 183.5,354.5C183.0,355.0 182.6,355.9 182.2,356.5C181.8,357.1 180.9,358.1 181.2,358.3Z" fill="none" stroke="#000" stroke-width="1.45" stroke-linejoin="round" stroke-linecap="round"/>
<path d="M170.5,324.5L177.0,323.2L184.0,322.2L183.5,326.0L182.0,329.0L183.2,333.0L182.0,335.5L177.0,336.2L171.0,336.2L166.0,336.2L170.0,334.5L173.5,332.5L174.0,329.0L173.5,325.5Z" fill="none" stroke="#000" stroke-width="1.5" stroke-linejoin="round" stroke-linecap="round"/>
<path d="M120.0,319.0C120.2,318.5 121.7,317.6 122.5,317.5C123.3,317.4 124.2,318.8 125.0,318.5C125.8,318.2 126.7,316.3 127.5,316.0C128.3,315.7 129.4,316.0 130.0,316.5C130.6,317.0 131.2,318.2 131.2,319.0C131.2,319.8 130.8,320.8 130.0,321.2C129.2,321.6 127.4,321.7 126.5,321.5C125.6,321.3 125.3,320.2 124.5,320.0C123.7,319.8 122.2,320.7 121.5,320.5C120.8,320.3 119.8,319.5 120.0,319.0Z" fill="none" stroke="#000" stroke-width="1.45" stroke-linejoin="round" stroke-linecap="round"/>
<path d="M222.5,379.5L226.2,384.5L229.5,392.0L227.5,398.2L225.5,404.0L227.5,397.0L232.5,395.0L240.0,399.5L246.2,405.8L252.0,409.5L253.0,419.0L255.0,411.5L262.5,411.5L272.5,413.2L276.2,416.5L277.0,412.0L290.0,411.0L302.5,412.0L312.0,415.0L309.2,423.2L313.0,416.5L322.5,419.5L332.5,423.2L342.5,432.0L347.5,434.5L345.0,435.8L350.0,437.0L348.8,441.5L352.5,440.0L355.0,446.5L357.5,442.5L362.5,447.0L365.0,454.5L365.5,464.5" fill="none" stroke="#000" stroke-width="1.45" stroke-linejoin="round" stroke-linecap="round"/>
<path d="M980.6,250.9L985.6,252.8L990.3,257.5L994.1,262.2L996.9,264.1L995.9,267.8L998.7,270.6L996.9,274.4L1000.6,275.9L1006.2,274.4L1013.7,273.8L1019.4,273.8L1010.0,275.3L1004.4,277.2L998.7,276.2L995.0,275.3L993.5,278.1L994.1,283.7L993.5,290.3L995.9,294.0L998.7,295.0L997.2,290.3L1000.6,289.0L999.7,292.2L1002.5,296.9L1005.3,299.7L1008.1,304.3L1010.9,305.3L1014.7,304.3L1018.4,302.5L1025.5,301.5L1020.3,304.0L1016.5,306.2L1023.1,306.2L1018.4,308.5L1017.5,311.8L1020.3,313.7L1022.2,310.9L1024.0,314.7L1023.5,317.5L1026.9,318.4L1029.1,320.8L1032.5,322.2L1035.3,325.0L1034.7,328.7L1037.2,331.5L1041.8,334.3L1045.6,335.3L1048.4,339.0L1051.2,339.6L1050.8,343.7L1054.0,346.5L1055.9,349.3L1058.7,352.1L1057.8,354.9L1062.5,357.8L1061.5,360.6L1065.3,362.4L1064.3,365.3L1059.6,367.1L1061.5,369.9L1065.3,371.8L1067.1,376.5" fill="none" stroke="#000" stroke-width="1.45" stroke-linejoin="round" stroke-linecap="round"/>
<path d="M1066.4,375.8L1068.8,379.0L1072.8,379.0L1073.3,382.2L1070.4,381.4L1065.6,381.1L1064.0,382.2L1070.4,383.8L1080.0,387.8L1089.6,392.6L1096.0,398.2L1102.4,402.2L1105.6,406.2L1112.0,408.6L1121.6,415.0L1128.0,421.4L1137.6,429.4L1147.2,435.8L1156.8,439.8L1163.2,441.4L1169.6,439.0L1179.2,435.0L1192.0,430.2L1201.6,427.0L1212.8,425.9" fill="none" stroke="#000" stroke-width="1.45" stroke-linejoin="round" stroke-linecap="round"/>
<path d="M1204.0,426.4L1212.8,426.0" fill="none" stroke="#000" stroke-width="2.55" stroke-linejoin="round" stroke-linecap="round"/>
<path d="M1008.5,308.5C1008.8,308.2 1010.2,308.2 1010.5,308.5C1010.8,308.8 1010.8,310.2 1010.5,310.5C1010.2,310.8 1008.8,310.8 1008.5,310.5C1008.2,310.2 1008.2,308.8 1008.5,308.5Z" fill="none" stroke="#000" stroke-width="1.15" stroke-linejoin="round" stroke-linecap="round"/>
<path d="M1005.0,316.8C1005.3,316.5 1006.7,316.5 1007.0,316.8C1007.3,317.0 1007.3,318.0 1007.0,318.2C1006.7,318.5 1005.3,318.5 1005.0,318.2C1004.7,318.0 1004.7,317.0 1005.0,316.8Z" fill="none" stroke="#000" stroke-width="1.15" stroke-linejoin="round" stroke-linecap="round"/>
<path d="M1009.0,315.8C1009.3,315.5 1010.5,315.5 1010.8,315.8C1011.0,316.0 1011.0,317.0 1010.8,317.2C1010.5,317.5 1009.3,317.5 1009.0,317.2C1008.7,317.0 1008.7,316.0 1009.0,315.8Z" fill="none" stroke="#000" stroke-width="1.15" stroke-linejoin="round" stroke-linecap="round"/>
<path d="M1013.0,314.0C1013.2,313.8 1014.2,313.8 1014.5,314.0C1014.8,314.2 1014.8,315.2 1014.5,315.5C1014.2,315.8 1013.2,315.8 1013.0,315.5C1012.8,315.2 1012.8,314.2 1013.0,314.0Z" fill="none" stroke="#000" stroke-width="1.15" stroke-linejoin="round" stroke-linecap="round"/>
<path d="M365.5,460.8L367.5,467.0L369.0,471.0" fill="none" stroke="#000" stroke-width="1.45" stroke-linejoin="round" stroke-linecap="round"/>
<path d="M368.0,470.0C368.2,470.7 369.0,472.5 369.5,474.0C370.0,475.5 370.6,477.7 371.0,479.0C371.4,480.3 371.5,481.2 372.0,482.0C372.5,482.8 373.5,483.2 374.0,484.0C374.5,484.8 374.5,485.8 375.0,486.5C375.5,487.2 376.0,487.7 377.0,488.0C378.0,488.3 379.8,488.2 381.0,488.5C382.2,488.8 383.6,489.2 384.5,490.0C385.4,490.8 386.1,491.9 386.5,493.0C386.9,494.1 387.1,495.3 387.0,496.5C386.9,497.7 386.7,499.0 386.0,500.0C385.3,501.0 384.1,501.6 383.0,502.5C381.9,503.4 380.5,504.5 379.5,505.5C378.5,506.5 377.8,507.5 377.0,508.5C376.2,509.5 375.7,510.5 375.0,511.5C374.3,512.5 373.8,513.6 373.0,514.5C372.2,515.4 371.4,516.2 370.5,517.0C369.6,517.8 368.6,518.3 367.5,519.0C366.4,519.7 365.1,520.4 364.0,521.0C362.9,521.6 361.8,521.8 361.0,522.5C360.2,523.2 359.9,524.4 359.5,525.5C359.1,526.6 359.2,527.9 358.5,529.0C357.8,530.1 356.0,530.8 355.0,532.0C354.0,533.2 353.2,534.7 352.5,536.0C351.8,537.3 351.1,538.7 350.5,540.0C349.9,541.3 349.3,542.8 349.0,544.0C348.7,545.2 349.2,546.2 348.5,547.0C347.8,547.8 346.4,548.3 345.0,548.5C343.6,548.7 341.6,547.8 340.0,548.0C338.4,548.2 335.7,549.6 335.5,550.0C335.3,550.4 337.7,550.2 339.0,550.5C340.3,550.8 341.8,551.5 343.5,551.5C345.2,551.5 347.1,551.2 349.0,550.5C350.9,549.8 353.0,548.2 355.0,547.0C357.0,545.8 359.0,544.2 361.0,543.0C363.0,541.8 365.7,540.2 367.0,539.5C368.3,538.8 368.7,538.7 369.0,538.5" fill="none" stroke="#000" stroke-width="1.5" stroke-linejoin="round" stroke-linecap="round"/>
<path d="M358.0,532.0C358.5,531.7 360.2,530.1 361.0,530.0C361.8,529.9 363.1,530.7 363.0,531.5C362.9,532.3 361.5,533.8 360.5,535.0C359.5,536.2 358.1,537.8 357.0,539.0C355.9,540.2 355.1,540.8 354.0,542.0C352.9,543.2 351.2,545.0 350.5,546.0C349.8,547.0 349.7,547.7 349.5,548.0" fill="none" stroke="#000" stroke-width="1.5" stroke-linejoin="round" stroke-linecap="round"/>
<path d="M374.8,483.0C375.0,482.2 375.8,481.2 376.5,481.0C377.2,480.8 378.4,481.2 378.8,481.8C379.2,482.4 379.4,483.7 379.2,484.5C379.0,485.3 378.1,486.3 377.5,486.5C376.9,486.7 375.9,486.4 375.5,485.8C375.1,485.2 374.6,483.8 374.8,483.0Z" fill="none" stroke="#000" stroke-width="1.5" stroke-linejoin="round" stroke-linecap="round"/>
<path d="M375.5,511.0C376.0,510.2 377.8,509.5 378.0,510.0C378.2,510.5 377.3,512.7 377.0,514.0C376.7,515.3 376.5,517.0 376.0,518.0C375.5,519.0 374.4,520.0 374.0,520.0C373.6,520.0 373.3,518.8 373.5,518.0C373.7,517.2 374.7,516.2 375.0,515.0C375.3,513.8 375.0,511.8 375.5,511.0Z" fill="none" stroke="#000" stroke-width="1.5" stroke-linejoin="round" stroke-linecap="round"/>
<path d="M379.5,510.5C380.1,509.8 382.2,509.4 383.0,509.5C383.8,509.6 384.7,510.4 384.5,511.0C384.3,511.6 382.8,512.5 382.0,513.0C381.2,513.5 379.9,514.4 379.5,514.0C379.1,513.6 378.9,511.2 379.5,510.5Z" fill="none" stroke="#000" stroke-width="1.5" stroke-linejoin="round" stroke-linecap="round"/>
<path d="M379.0,517.0C379.8,516.3 382.3,515.7 384.0,515.5C385.7,515.3 388.0,515.6 389.0,516.0C390.0,516.4 390.3,517.3 390.0,518.0C389.7,518.7 388.3,519.6 387.0,520.0C385.7,520.4 383.3,520.6 382.0,520.5C380.7,520.4 379.5,520.1 379.0,519.5C378.5,518.9 378.2,517.7 379.0,517.0Z" fill="none" stroke="#000" stroke-width="1.5" stroke-linejoin="round" stroke-linecap="round"/>
<path d="M389.0,521.0C389.3,520.3 391.8,519.3 393.0,519.2C394.2,519.1 396.2,519.9 396.5,520.5C396.8,521.1 395.9,522.5 395.0,523.0C394.1,523.5 392.0,523.8 391.0,523.5C390.0,523.2 388.7,521.7 389.0,521.0Z" fill="none" stroke="#000" stroke-width="1.5" stroke-linejoin="round" stroke-linecap="round"/>
<path d="M365.8,524.5C366.1,523.7 368.0,522.5 369.0,522.2C370.0,521.9 371.8,522.2 372.0,522.8C372.2,523.3 370.8,524.8 370.0,525.5C369.2,526.2 367.7,527.2 367.0,527.0C366.3,526.8 365.5,525.3 365.8,524.5Z" fill="none" stroke="#000" stroke-width="1.5" stroke-linejoin="round" stroke-linecap="round"/>
<path d="M372.0,526.0C372.7,525.0 373.5,524.4 375.0,524.0C376.5,523.6 378.7,523.4 381.0,523.5C383.3,523.6 386.3,524.3 389.0,524.5C391.7,524.7 394.3,524.3 397.0,524.5C399.7,524.7 402.1,525.0 405.0,525.5C407.9,526.0 413.2,526.1 414.5,527.2C415.8,528.3 413.4,530.5 413.0,532.0C412.6,533.5 412.3,535.0 412.0,536.0C411.7,537.0 411.5,537.3 411.2,538.0C410.9,538.7 410.4,539.3 410.0,540.0C409.6,540.7 409.1,541.2 408.5,542.0C407.9,542.8 406.6,543.8 406.2,544.8C405.8,545.8 406.9,547.5 405.8,548.0C404.7,548.5 400.3,547.3 399.5,547.5C398.7,547.7 401.4,548.6 401.0,549.0C400.6,549.4 398.2,550.1 397.0,550.0C395.8,549.9 394.7,548.2 394.0,548.5C393.3,548.8 393.8,550.7 393.0,551.5C392.2,552.3 390.5,553.3 389.0,553.5C387.5,553.7 385.8,552.4 384.0,552.5C382.2,552.6 379.7,554.0 378.0,554.0C376.3,554.0 375.0,553.3 374.0,552.5C373.0,551.7 372.6,550.4 372.0,549.0C371.4,547.6 370.8,545.7 370.5,544.0C370.2,542.3 370.0,540.7 370.0,539.0C370.0,537.3 370.3,535.5 370.5,534.0C370.7,532.5 370.8,531.3 371.0,530.0C371.2,528.7 371.3,527.0 372.0,526.0Z" fill="none" stroke="#000" stroke-width="1.5" stroke-linejoin="round" stroke-linecap="round"/>
<path d="M369.0,538.5L368.0,542.0L369.5,547.0L371.5,552.0L374.0,555.0L377.0,558.5L381.0,556.5L385.0,555.0L390.0,556.5L395.0,554.5L397.5,553.0L396.5,557.0L395.0,562.0L393.5,567.0L391.5,570.5L394.0,568.5L396.0,564.0L398.0,559.0L400.0,556.0L405.0,552.5L409.0,549.0L411.0,548.5L413.0,551.0L415.0,548.5L413.0,546.5L413.5,543.0L415.0,539.0L418.0,535.0L423.0,533.5L428.0,534.0L432.5,532.5L437.0,534.0L443.0,535.5L448.0,539.0L455.0,541.0L462.0,544.0L468.0,547.0L470.0,550.0" fill="none" stroke="#000" stroke-width="1.5" stroke-linejoin="round" stroke-linecap="round"/>
<path d="M372.2,541.0C372.5,540.7 373.5,540.7 373.8,541.0C374.1,541.3 374.1,542.3 373.8,542.6C373.5,542.9 372.5,542.9 372.2,542.6C371.9,542.3 371.9,541.3 372.2,541.0Z" fill="#000" stroke="#000" stroke-width="1.0" stroke-linejoin="round" stroke-linecap="round"/>
<path d="M466.0,546.2L468.5,547.0L470.0,551.0L470.5,553.0L472.0,551.0L473.5,548.5L476.0,549.0L480.0,552.0L483.0,554.0L484.5,556.5L484.5,560.0L483.0,562.0L481.5,563.5L484.0,564.5L485.5,561.0L487.0,561.5L487.8,564.0L486.0,566.5L484.0,569.0L482.5,574.0L481.2,580.0L484.0,578.0L487.0,575.5L488.0,572.0L487.5,569.0L489.5,566.5L491.5,566.2L492.5,568.0L492.0,571.0L491.0,572.5L493.5,570.5L496.0,569.0L500.0,567.8L504.0,567.0L505.5,564.8L509.0,564.5L514.0,566.2L519.0,569.0L523.0,571.0L528.0,572.2L532.0,572.5L533.5,571.5L536.0,573.0L540.0,574.8L544.0,575.2L548.0,574.0L554.0,573.0L560.0,572.2L568.0,573.2L574.0,576.5L580.0,579.5" fill="none" stroke="#000" stroke-width="1.5" stroke-linejoin="round" stroke-linecap="round"/>
<path d="M476.2,544.5C476.5,544.1 477.8,543.9 478.2,544.3C478.6,544.6 478.7,546.2 478.4,546.6C478.1,547.0 476.6,547.1 476.2,546.8C475.8,546.4 475.9,544.9 476.2,544.5Z" fill="#000" stroke="#000" stroke-width="1.0" stroke-linejoin="round" stroke-linecap="round"/>
<path d="M481.2,562.8C481.4,562.4 482.5,561.8 483.0,562.0C483.5,562.2 484.2,563.4 484.0,563.8C483.8,564.2 482.5,564.8 482.0,564.6C481.5,564.4 481.0,563.2 481.2,562.8Z" fill="#000" stroke="#000" stroke-width="1.0" stroke-linejoin="round" stroke-linecap="round"/>
<path d="M580.0,579.5C581.2,580.3 584.8,582.8 587.5,584.5C590.2,586.2 593.8,587.9 596.2,590.0C598.8,592.1 600.0,594.5 602.5,597.0C605.0,599.5 608.8,603.2 611.2,605.0C613.8,606.8 616.0,606.5 617.5,607.5C619.0,608.5 618.8,610.5 620.0,611.2C621.2,612.0 623.3,611.5 625.0,612.0C626.7,612.5 627.3,614.2 630.0,614.5C632.7,614.8 638.1,613.8 641.2,613.8C644.4,613.8 646.8,613.9 648.8,614.5C650.7,615.1 652.3,617.0 653.0,617.5" fill="none" stroke="#000" stroke-width="1.45" stroke-linejoin="round" stroke-linecap="round"/>
<path d="M653.0,617.5C653.3,618.2 654.3,620.3 655.0,622.0C655.7,623.7 656.2,624.9 657.0,627.5C657.8,630.1 659.1,634.4 660.0,637.5C660.9,640.6 661.9,643.3 662.5,646.2C663.1,649.2 663.7,651.9 663.8,655.0C663.8,658.1 663.4,661.7 663.0,665.0C662.6,668.3 662.2,671.7 661.2,675.0C660.3,678.3 659.2,681.9 657.5,685.0C655.8,688.1 653.3,691.5 651.2,693.8C649.2,696.0 646.3,697.7 645.0,698.8C643.7,699.8 643.7,699.5 643.5,700.0C643.3,700.5 644.2,700.7 644.0,701.5C643.8,702.3 642.3,704.4 642.0,705.0" fill="none" stroke="#000" stroke-width="1.45" stroke-linejoin="round" stroke-linecap="round"/></g>
<g id="Lb"><path d="M405.0,64.7C403.9,65.0 395.9,66.9 393.6,68.0C391.4,69.2 385.0,74.8 382.9,76.1C380.9,77.3 373.9,78.9 372.9,80.1C371.9,81.2 374.3,86.3 373.3,87.4C372.3,88.6 364.9,90.7 362.9,91.4C360.9,92.2 355.1,94.1 353.5,95.1C351.9,96.0 348.2,99.5 346.8,100.8C345.5,102.1 341.5,106.5 340.1,108.2C338.7,109.8 333.0,115.9 332.8,117.3C332.5,118.7 337.1,121.1 337.5,122.2C337.8,123.3 335.9,127.0 336.1,128.2C336.3,129.5 338.7,133.7 339.5,134.9C340.2,136.1 343.0,139.1 343.5,140.3C343.9,141.4 343.3,144.9 344.1,146.3C345.0,147.6 350.8,153.0 352.2,153.6C353.5,154.2 356.1,152.9 357.5,152.3C359.0,151.7 364.6,148.7 366.9,147.6C369.2,146.6 377.6,142.6 380.3,141.6C382.9,140.6 390.6,138.3 393.6,137.6C396.7,136.9 409.1,134.9 410.8,134.6" fill="none" stroke="#1e90ff" stroke-width="1.875" stroke-dasharray="6.94 3.0" stroke-dashoffset="0"/>
<path d="M433.8,127.6C435.1,127.7 444.5,128.6 447.2,128.9C449.8,129.2 458.0,130.0 460.5,130.2C463.1,130.5 471.0,131.7 472.6,131.6C474.2,131.5 476.3,129.9 476.3,129.3C476.3,128.7 473.9,126.7 472.6,125.6C471.3,124.4 465.1,119.0 463.2,117.5C461.3,116.1 455.1,112.1 453.8,110.8C452.6,109.6 450.5,106.0 450.5,104.8C450.5,103.6 454.0,99.9 453.8,98.8C453.6,97.7 449.8,94.8 448.5,94.1C447.2,93.4 442.5,92.3 440.5,92.1C438.5,91.9 430.6,92.3 428.4,92.4C426.2,92.4 419.4,94.0 418.4,92.8C417.4,91.5 417.9,82.9 418.0,80.1C418.1,77.2 419.0,65.6 419.1,64.0" fill="none" stroke="#1e90ff" stroke-width="1.875" stroke-dasharray="6.94 3.0" stroke-dashoffset="0"/>
<path d="M481.3,134.6C481.8,134.6 485.6,134.2 486.6,134.2C487.6,134.3 490.8,134.8 491.3,134.9" fill="none" stroke="#1e90ff" stroke-width="1.875" stroke-dasharray="6.94 3.0" stroke-dashoffset="0"/>
<path d="M100.0,222.0C101.0,222.4 105.8,224.1 110.0,225.8C114.2,227.4 136.2,235.6 142.5,238.2C148.8,240.9 166.8,249.6 172.5,252.0C178.2,254.4 197.2,261.4 200.0,262.5" fill="none" stroke="#1e90ff" stroke-width="1.875" stroke-dasharray="6.94 3.0" stroke-dashoffset="0"/>
<path d="M445.0,262.0C446.5,261.4 457.9,256.6 460.0,255.8C462.1,254.9 465.4,254.2 466.2,254.0C467.1,253.8 467.1,253.6 469.0,254.0C470.9,254.4 483.4,258.1 485.0,258.5" fill="none" stroke="#1e90ff" stroke-width="1.875" stroke-dasharray="6.94 3.0" stroke-dashoffset="0"/>
<path d="M560.0,63.5C559.5,64.6 555.2,71.9 554.5,74.5C553.8,77.1 553.0,87.0 553.0,89.5C553.0,92.0 553.2,97.8 555.0,99.5C556.8,101.2 568.2,106.2 571.2,106.5C574.2,106.8 582.4,102.6 585.0,102.0C587.6,101.4 595.0,100.5 597.5,100.8C600.0,101.0 608.0,103.5 610.0,105.0C612.0,106.5 615.9,113.3 617.5,115.8C619.1,118.2 624.5,126.4 626.2,129.5C628.0,132.6 633.1,144.1 635.0,147.0C636.9,149.9 642.5,156.1 645.0,158.2C647.5,160.4 656.8,166.4 660.0,168.2C663.2,170.1 674.2,174.8 677.5,177.0C680.8,179.2 689.8,188.1 692.5,190.8C695.2,193.4 702.2,201.2 705.0,203.2C707.8,205.2 715.5,209.4 720.0,210.8C724.5,212.1 745.5,215.9 750.0,217.0C754.5,218.1 761.5,221.3 765.0,222.0C768.5,222.7 780.5,223.6 785.0,224.0C789.5,224.4 805.2,225.8 810.0,226.5C814.8,227.2 829.6,230.4 832.5,231.5C835.4,232.6 838.8,235.9 838.8,237.0C838.8,238.1 835.4,241.9 832.5,242.5C829.6,243.1 814.8,242.3 810.0,242.5C805.2,242.7 789.2,243.7 785.0,244.5C780.8,245.3 770.8,249.4 767.5,250.8C764.2,252.1 755.5,257.2 752.5,258.2C749.5,259.3 740.2,261.0 737.5,261.2C734.8,261.5 726.2,260.8 725.0,260.8" fill="none" stroke="#1e90ff" stroke-width="1.875" stroke-dasharray="6.94 3.0" stroke-dashoffset="0"/>
<path d="M705.0,259.5C703.0,259.5 689.0,259.2 685.0,259.5C681.0,259.8 667.5,261.8 665.5,262.0" fill="none" stroke="#1e90ff" stroke-width="1.875" stroke-dasharray="6.94 3.0" stroke-dashoffset="0"/>
<path d="M661.2,80.0C661.5,79.2 663.8,74.6 665.0,74.0C666.2,73.4 672.4,73.5 673.8,74.0C675.1,74.5 678.4,78.6 678.8,79.5C679.1,80.4 678.4,82.9 677.5,83.2C676.6,83.6 671.5,83.4 670.0,83.2C668.5,83.1 663.9,82.3 663.0,82.0C662.1,81.7 661.0,80.8 661.2,80.0Z" fill="none" stroke="#1e90ff" stroke-width="1.875" stroke-dasharray="6.94 3.0" stroke-dashoffset="0"/>
<path d="M781.2,63.5C782.4,64.6 789.9,72.5 792.5,74.5C795.1,76.5 804.2,82.0 807.5,83.2C810.8,84.5 822.5,85.8 825.0,87.0C827.5,88.2 831.5,94.0 832.5,95.8C833.5,97.5 833.8,102.5 835.0,104.5C836.2,106.5 842.5,113.2 845.0,115.8C847.5,118.3 858.0,128.8 859.5,130.2" fill="none" stroke="#1e90ff" stroke-width="1.875" stroke-dasharray="6.94 3.0" stroke-dashoffset="0"/>
<path d="M735.0,120.7 L741.5,122.2" fill="none" stroke="#1e90ff" stroke-width="1.875" stroke-dasharray="6.94 3.0" stroke-dashoffset="0"/>
<path d="M732.0,123.5 L739.5,125.5" fill="none" stroke="#1e90ff" stroke-width="1.875" stroke-dasharray="6.94 3.0" stroke-dashoffset="0"/>
<path d="M750.5,125.0 L756.5,126.3" fill="none" stroke="#1e90ff" stroke-width="1.875" stroke-dasharray="6.94 3.0" stroke-dashoffset="0"/>
<path d="M757.5,132.8C757.7,133.1 758.6,135.4 759.2,135.6C759.8,135.8 763.2,134.7 763.6,134.6" fill="none" stroke="#1e90ff" stroke-width="1.875" stroke-dasharray="6.94 3.0" stroke-dashoffset="0"/>
<path d="M766.2,140.8C766.1,141.5 764.1,146.4 764.5,148.2C764.9,150.1 768.5,157.6 770.0,159.5C771.5,161.4 777.2,165.4 780.0,167.0C782.8,168.6 794.9,174.0 797.5,175.8C800.1,177.5 804.8,182.5 806.2,184.5C807.8,186.5 810.9,193.6 812.5,195.8C814.1,197.9 820.8,204.8 822.5,205.8C824.2,206.7 830.2,206.9 830.0,205.0C829.8,203.1 822.0,190.1 820.0,187.0C818.0,183.9 812.4,176.8 810.0,174.5C807.6,172.2 797.6,165.1 796.2,164.0" fill="none" stroke="#1e90ff" stroke-width="1.875" stroke-dasharray="6.94 3.0" stroke-dashoffset="0"/>
<path d="M779.5,146.5 L767.5,141.5" fill="none" stroke="#1e90ff" stroke-width="1.875" stroke-dasharray="6.94 3.0" stroke-dashoffset="0"/>
<path d="M850.0,244.4C850.3,244.2 852.5,242.7 853.2,242.4C853.9,242.1 856.2,241.2 857.0,241.4C857.8,241.6 860.8,243.7 861.2,244.0" fill="none" stroke="#1e90ff" stroke-width="1.875" stroke-dasharray="6.94 3.0" stroke-dashoffset="0"/>
<path d="M860.5,131.2C862.0,132.3 872.0,139.6 875.0,142.0C878.0,144.4 886.5,153.0 890.0,155.8C893.5,158.5 906.2,166.8 910.0,169.5C913.8,172.2 924.0,180.5 927.5,183.2C931.0,186.0 941.2,194.8 945.0,197.0C948.8,199.2 961.2,203.9 965.0,205.8C968.8,207.6 979.1,213.6 982.5,215.8C985.9,217.9 995.9,224.9 998.8,227.0C1001.6,229.1 1009.8,236.0 1011.0,237.0" fill="none" stroke="#1e90ff" stroke-width="1.875" stroke-dasharray="6.94 3.0" stroke-dashoffset="0"/>
<path d="M1029.0,251.5C1029.8,251.7 1036.4,253.6 1037.5,253.0C1038.6,252.4 1040.2,247.6 1040.0,245.8C1039.8,243.9 1036.0,236.8 1035.0,234.5C1034.0,232.2 1032.0,224.8 1030.5,223.2C1029.0,221.8 1021.8,219.9 1020.0,219.5C1018.2,219.1 1014.1,220.0 1013.0,219.0C1011.9,218.0 1010.0,211.1 1008.8,209.5C1007.5,207.9 1002.9,204.5 1000.0,203.2C997.1,202.0 983.2,198.1 980.0,197.0C976.8,195.9 969.4,193.1 967.5,192.0C965.6,190.9 961.2,187.5 961.0,186.5C960.8,185.5 965.1,183.4 965.5,182.0C965.9,180.6 965.4,174.0 965.0,172.0C964.6,170.0 961.8,163.8 961.2,162.0C960.8,160.2 959.8,155.9 960.0,154.5C960.2,153.1 962.0,148.8 963.8,148.2C965.5,147.8 974.9,149.5 977.5,149.5C980.1,149.5 988.1,148.1 990.0,148.2C991.9,148.4 995.8,149.8 996.2,150.8C996.8,151.8 994.6,157.0 995.0,158.2C995.4,159.5 998.5,162.9 1000.0,163.2C1001.5,163.6 1008.0,161.4 1010.0,161.5C1012.0,161.6 1017.5,163.6 1020.0,164.5C1022.5,165.4 1031.5,169.6 1035.0,170.8C1038.5,171.9 1051.8,175.0 1055.0,175.8C1058.2,176.5 1065.2,177.2 1067.5,178.2C1069.8,179.2 1076.3,184.4 1077.5,185.8C1078.7,187.1 1079.5,190.8 1079.5,192.0C1079.5,193.2 1077.0,196.9 1077.0,198.2C1077.0,199.6 1078.7,205.2 1080.0,205.8C1081.3,206.2 1088.0,203.8 1090.0,203.2C1092.0,202.8 1098.4,200.5 1100.0,200.8C1101.6,201.0 1105.4,204.2 1106.2,205.8C1107.1,207.2 1107.4,214.8 1108.8,215.8C1110.1,216.7 1117.4,215.5 1120.0,215.0C1122.6,214.5 1132.0,211.2 1135.0,210.8C1138.0,210.2 1147.5,209.9 1150.0,210.0C1152.5,210.1 1157.8,211.1 1160.0,212.0C1162.2,212.9 1170.0,217.9 1172.5,219.5C1175.0,221.1 1183.1,226.8 1185.0,228.2C1186.9,229.8 1191.1,233.5 1191.2,234.5C1191.4,235.5 1186.6,237.2 1186.2,238.2C1185.9,239.2 1188.1,243.4 1187.5,244.5C1186.9,245.6 1182.8,248.9 1180.0,249.5C1177.2,250.1 1163.8,250.4 1160.0,250.8C1156.2,251.1 1146.0,252.4 1142.5,252.5C1139.0,252.6 1128.2,251.6 1125.0,251.5C1121.8,251.4 1112.0,251.2 1110.0,252.0C1108.0,252.8 1105.5,258.8 1105.0,259.5" fill="none" stroke="#1e90ff" stroke-width="1.875" stroke-dasharray="6.94 3.0" stroke-dashoffset="0"/>
<path d="M998.2,141.5 L1006.2,147.2" fill="none" stroke="#1e90ff" stroke-width="1.875" stroke-dasharray="6.94 3.0" stroke-dashoffset="0"/>
<path d="M203.5,262.8C204.9,263.3 214.1,267.1 217.5,268.2C220.9,269.4 233.2,273.2 237.5,274.0C241.8,274.8 255.8,275.9 260.0,276.5C264.2,277.1 276.0,278.6 280.0,279.5C284.0,280.4 296.2,284.8 300.0,285.8C303.8,286.7 314.0,288.6 317.5,289.0C321.0,289.4 331.8,289.7 335.0,289.5C338.2,289.3 346.5,287.6 350.0,287.0C353.5,286.4 366.0,283.9 370.0,283.2C374.0,282.6 386.0,280.8 390.0,280.0C394.0,279.2 406.0,276.9 410.0,275.8C414.0,274.6 426.7,269.5 430.0,268.2C433.3,267.0 441.7,263.8 443.0,263.2" fill="none" stroke="#1e90ff" stroke-width="1.875" stroke-dasharray="6.94 3.0" stroke-dashoffset="0"/>
<path d="M108.8,309.8C110.0,309.6 119.6,308.8 121.2,308.2C122.9,307.7 125.9,305.4 125.5,304.5C125.1,303.6 118.4,300.6 117.5,299.5C116.6,298.4 115.5,294.9 116.2,294.0C117.0,293.1 122.6,290.4 125.0,290.0C127.4,289.6 137.0,289.2 140.0,289.5C143.0,289.8 152.2,292.1 155.0,293.2C157.8,294.4 165.6,299.1 167.5,300.8C169.4,302.4 174.2,307.8 174.5,309.5C174.8,311.2 171.1,316.9 170.0,318.2C168.9,319.6 165.5,322.4 163.8,323.2C162.0,324.1 154.1,326.2 152.5,327.0C150.9,327.8 148.2,329.2 148.0,330.8C147.8,332.2 149.3,339.6 150.0,342.0C150.7,344.4 154.0,352.5 155.0,354.5C156.0,356.5 158.2,360.6 160.0,362.0C161.8,363.4 170.0,367.1 172.5,368.2C175.0,369.4 182.0,372.5 185.0,373.2C188.0,374.0 199.8,375.4 202.5,375.8C205.2,376.1 210.2,377.1 212.5,377.0C214.8,376.9 221.8,375.2 225.0,374.5C228.2,373.8 241.0,370.6 245.0,369.5C249.0,368.4 261.0,364.2 265.0,363.2C269.0,362.3 281.0,360.3 285.0,360.0C289.0,359.7 301.0,359.8 305.0,360.0C309.0,360.2 321.1,361.9 325.0,362.0C328.9,362.1 341.6,361.6 343.5,361.5" fill="none" stroke="#1e90ff" stroke-width="1.875" stroke-dasharray="6.94 3.0" stroke-dashoffset="0"/>
<path d="M362.0,360.0C364.1,360.0 379.4,359.6 382.5,360.0C385.6,360.4 390.8,363.2 392.5,364.5C394.2,365.8 398.2,372.0 400.0,373.2C401.8,374.5 407.5,376.8 410.0,377.0C412.5,377.2 421.8,376.4 425.0,375.8C428.2,375.1 438.5,371.7 442.5,370.8C446.5,369.8 460.9,367.1 465.0,366.5C469.1,365.9 482.1,365.1 484.0,365.0" fill="none" stroke="#1e90ff" stroke-width="1.875" stroke-dasharray="6.94 3.0" stroke-dashoffset="0"/>
<path d="M107.0,361.5C107.4,361.7 109.8,362.6 110.8,363.2C111.8,363.8 115.6,367.0 117.0,367.5C118.4,368.0 123.4,368.1 125.0,368.2C126.6,368.3 131.8,368.4 133.0,368.8C134.2,369.2 136.3,371.6 137.0,372.5C137.7,373.4 139.7,376.8 139.8,378.0C140.0,379.2 138.8,383.8 138.5,385.0C138.2,386.2 137.0,389.0 136.8,390.0C136.7,391.0 137.3,394.4 137.0,395.0C136.7,395.6 134.6,396.0 134.0,396.5C133.4,397.0 131.3,399.4 131.0,400.0C130.7,400.6 130.5,402.4 130.5,403.0C130.5,403.6 131.2,405.2 131.0,406.0C130.8,406.8 128.8,409.7 128.5,410.5C128.2,411.3 127.8,413.4 128.0,414.0C128.2,414.6 130.1,416.3 130.5,417.0C130.9,417.7 132.1,420.2 132.2,421.0C132.3,421.8 131.6,424.4 131.2,425.0C130.8,425.6 129.1,427.1 128.5,427.5C127.9,427.9 125.8,428.7 125.5,428.8" fill="none" stroke="#1e90ff" stroke-width="1.875" stroke-dasharray="6.94 3.0" stroke-dashoffset="0"/>
<path d="M161.0,398.6C160.6,398.8 157.1,400.2 157.2,400.5C157.2,400.8 161.1,401.9 161.5,402.0" fill="none" stroke="#1e90ff" stroke-width="1.875" stroke-dasharray="6.94 3.0" stroke-dashoffset="0"/>
<path d="M164.0,398.6C164.5,398.6 168.1,398.2 169.0,398.4C169.9,398.6 173.2,400.6 173.2,401.0C173.2,401.4 169.7,402.1 169.0,402.4C168.3,402.7 166.1,403.8 165.8,404.0" fill="none" stroke="#1e90ff" stroke-width="1.875" stroke-dasharray="6.94 3.0" stroke-dashoffset="0"/>
<path d="M145.5,278.2 L148.5,278.5" fill="none" stroke="#1e90ff" stroke-width="1.875" stroke-dasharray="6.94 3.0" stroke-dashoffset="0"/>
<path d="M162.0,283.2 L167.5,283.5" fill="none" stroke="#1e90ff" stroke-width="1.875" stroke-dasharray="6.94 3.0" stroke-dashoffset="0"/>
<path d="M284.0,322.2 L292.0,323.5" fill="none" stroke="#1e90ff" stroke-width="1.875" stroke-dasharray="6.94 3.0" stroke-dashoffset="0"/>
<path d="M462.0,294.5 L465.0,294.8" fill="none" stroke="#1e90ff" stroke-width="1.875" stroke-dasharray="6.94 3.0" stroke-dashoffset="0"/>
<path d="M108.8,284.5 L111.5,285.0" fill="none" stroke="#1e90ff" stroke-width="1.875" stroke-dasharray="6.94 3.0" stroke-dashoffset="0"/>
<path d="M481.2,288.5 L486.2,289.0" fill="none" stroke="#1e90ff" stroke-width="1.875" stroke-dasharray="6.94 3.0" stroke-dashoffset="0"/>
<path d="M485.0,258.5C486.5,259.2 497.0,264.5 500.0,265.8C503.0,267.0 511.5,269.7 515.0,270.8C518.5,271.8 530.8,275.5 535.0,276.5C539.2,277.5 553.0,280.4 557.5,280.8C562.0,281.1 576.2,279.5 580.0,279.5C583.8,279.5 592.4,280.2 595.0,280.8C597.6,281.3 603.8,285.2 606.2,285.0C608.8,284.8 617.1,280.3 620.0,279.0C622.9,277.7 632.0,273.3 635.0,272.0C638.0,270.7 647.5,266.6 650.0,265.8C652.5,264.9 659.0,263.5 660.0,263.2" fill="none" stroke="#1e90ff" stroke-width="1.875" stroke-dasharray="6.94 3.0" stroke-dashoffset="0"/>
<path d="M483.8,289.0 L496.2,289.5" fill="none" stroke="#1e90ff" stroke-width="1.875" stroke-dasharray="6.94 3.0" stroke-dashoffset="0"/>
<path d="M485.0,365.2C486.5,365.2 497.1,365.1 500.0,365.0C502.9,364.9 511.5,363.8 513.8,364.5C516.0,365.2 520.6,370.5 522.5,372.0C524.4,373.5 529.8,378.5 532.5,379.5C535.2,380.5 546.2,381.9 550.0,382.0C553.8,382.1 566.0,380.1 570.0,380.0C574.0,379.9 586.4,381.1 590.0,381.5C593.6,381.9 603.2,384.1 606.2,384.0C609.2,383.9 617.1,380.8 620.0,380.0C622.9,379.2 632.0,376.2 635.0,375.8C638.0,375.3 647.5,375.3 650.0,375.8C652.5,376.2 658.0,379.3 660.0,380.0C662.0,380.7 667.8,382.2 670.0,382.5C672.2,382.8 680.6,383.7 682.5,383.2C684.4,382.8 687.0,379.0 688.8,378.2C690.5,377.5 698.2,375.8 700.0,375.8C701.8,375.8 705.4,377.4 706.2,378.2C707.1,379.1 707.2,383.9 708.8,384.5C710.2,385.1 719.4,383.2 721.2,384.0C723.1,384.8 726.1,390.3 727.5,392.0C728.9,393.7 733.6,399.4 735.0,400.8C736.4,402.1 740.7,404.1 741.2,405.8C741.8,407.4 740.1,414.9 740.5,417.0C740.9,419.1 744.0,425.0 745.0,427.0C746.0,429.0 748.8,435.4 750.0,437.0C751.2,438.6 755.0,441.9 757.5,442.5C760.0,443.1 770.8,442.9 775.0,442.5C779.2,442.1 795.5,440.1 800.0,439.0C804.5,437.9 816.5,433.4 820.0,432.0C823.5,430.6 832.5,425.8 835.0,424.5C837.5,423.2 843.1,419.9 845.0,419.5C846.9,419.1 852.3,419.8 853.8,420.0C855.2,420.2 858.9,421.8 859.5,422.0" fill="none" stroke="#1e90ff" stroke-width="1.875" stroke-dasharray="6.94 3.0" stroke-dashoffset="0"/>
<path d="M712.5,366.5C712.8,366.9 714.3,369.9 715.0,370.0C715.7,370.1 719.0,367.8 719.5,367.5" fill="none" stroke="#1e90ff" stroke-width="1.875" stroke-dasharray="6.94 3.0" stroke-dashoffset="0"/>
<path d="M711.2,429.0C712.1,429.2 718.4,430.4 720.0,431.5C721.6,432.6 725.8,437.9 727.5,439.5C729.2,441.1 736.4,445.4 737.5,447.0C738.6,448.6 739.2,454.2 738.8,455.8C738.2,457.2 733.9,460.6 732.5,462.0C731.1,463.4 727.2,469.2 725.0,469.5C722.8,469.8 712.0,465.5 710.0,464.5C708.0,463.5 706.5,460.8 705.0,459.5C703.5,458.2 696.5,453.5 695.0,452.0C693.5,450.5 689.9,446.0 689.5,444.5C689.1,443.0 691.1,437.8 691.2,437.0" fill="none" stroke="#1e90ff" stroke-width="1.875" stroke-dasharray="6.94 3.0" stroke-dashoffset="0"/>
<path d="M927.0,283.0C927.4,282.5 928.9,285.3 930.0,286.0C931.1,286.7 936.8,289.1 938.0,290.0C939.2,290.9 942.2,294.1 942.4,295.0C942.6,295.9 940.8,298.5 940.0,299.0C939.2,299.5 935.2,300.7 934.0,300.4C932.8,300.1 928.8,296.9 928.0,296.0C927.2,295.1 925.7,292.3 925.6,291.0C925.5,289.7 926.6,283.5 927.0,283.0Z" fill="none" stroke="#1e90ff" stroke-width="1.875" stroke-dasharray="6.94 3.0" stroke-dashoffset="0"/>
<path d="M1108.9,255.7C1108.5,256.1 1104.2,258.8 1104.2,259.7C1104.2,260.6 1107.8,263.3 1108.9,264.4C1110.1,265.4 1114.3,269.6 1115.6,270.4C1117.0,271.2 1122.8,271.9 1122.3,272.4C1121.8,272.9 1112.2,274.3 1110.3,275.1C1108.3,275.8 1104.1,278.6 1102.9,279.7C1101.7,280.9 1099.5,285.4 1098.2,286.4C1097.0,287.4 1091.9,288.8 1090.2,289.8C1088.5,290.7 1082.4,295.1 1080.8,295.8C1079.2,296.5 1075.2,296.0 1074.1,296.5C1073.1,296.9 1070.1,299.5 1070.1,300.5C1070.2,301.5 1074.9,305.6 1074.8,306.5C1074.7,307.4 1070.3,308.8 1069.5,309.8C1068.7,310.9 1067.0,315.2 1066.8,316.5C1066.6,317.9 1066.6,322.1 1067.5,323.2C1068.3,324.4 1074.0,327.2 1075.5,327.9C1077.0,328.6 1080.6,330.3 1082.2,330.6C1083.8,330.9 1089.8,331.1 1091.5,331.0C1093.3,330.9 1098.5,329.7 1099.6,329.2C1100.6,328.8 1102.5,327.0 1102.2,326.6C1102.0,326.1 1097.6,325.0 1096.9,324.6C1096.2,324.1 1095.3,322.4 1095.6,321.9C1095.8,321.4 1098.4,319.5 1099.6,319.2C1100.8,318.9 1106.0,318.8 1107.6,319.2C1109.2,319.6 1114.0,322.2 1115.6,323.2C1117.2,324.2 1122.2,327.9 1123.6,329.2C1125.1,330.6 1129.4,335.1 1130.3,336.6C1131.3,338.1 1133.2,342.7 1133.0,344.0C1132.8,345.2 1129.5,348.5 1128.3,349.3C1127.1,350.1 1122.0,351.6 1121.0,352.0C1120.0,352.4 1118.6,353.2 1118.3,353.3" fill="none" stroke="#1e90ff" stroke-width="1.875" stroke-dasharray="6.94 3.0" stroke-dashoffset="0"/>
<path d="M1105.6,350.7C1105.6,350.2 1108.8,348.6 1109.6,348.6C1110.4,348.6 1113.6,350.2 1113.6,350.7C1113.6,351.1 1110.4,352.9 1109.6,352.9C1108.8,352.9 1105.6,351.1 1105.6,350.7Z" fill="none" stroke="#1e90ff" stroke-width="1.875" stroke-dasharray="6.94 3.0" stroke-dashoffset="0"/>
<path d="M1117.5,355.8C1118.2,356.6 1123.2,363.1 1125.0,364.5C1126.8,365.9 1132.8,368.9 1135.0,369.5C1137.2,370.1 1145.0,371.4 1147.5,370.8C1150.0,370.1 1157.2,364.0 1160.0,363.2C1162.8,362.5 1172.4,363.2 1175.0,363.2C1177.6,363.2 1185.0,364.1 1186.2,363.2C1187.5,362.4 1187.9,356.6 1187.5,354.5C1187.1,352.4 1183.8,344.2 1182.5,342.0C1181.2,339.8 1176.8,334.0 1175.0,332.0C1173.2,330.0 1165.2,323.6 1165.0,322.0C1164.8,320.4 1170.8,316.8 1172.5,315.8C1174.2,314.8 1180.5,312.1 1182.5,312.0C1184.5,311.9 1190.8,314.9 1192.5,314.5C1194.2,314.1 1198.0,309.0 1200.0,308.2C1202.0,307.5 1211.2,306.9 1212.5,306.8" fill="none" stroke="#1e90ff" stroke-width="1.875" stroke-dasharray="6.94 3.0" stroke-dashoffset="0"/>
<path d="M1094.2,272.1 L1099.6,272.8" fill="none" stroke="#1e90ff" stroke-width="1.875" stroke-dasharray="6.94 3.0" stroke-dashoffset="0"/>
<path d="M1080.6,283.5 L1084.2,283.1" fill="none" stroke="#1e90ff" stroke-width="1.875" stroke-dasharray="6.94 3.0" stroke-dashoffset="0"/>
<path d="M1062.1,333.4 L1068.1,334.9" fill="none" stroke="#1e90ff" stroke-width="1.875" stroke-dasharray="6.94 3.0" stroke-dashoffset="0"/>
<path d="M861.0,423.5C862.4,423.9 871.4,426.6 875.0,427.0C878.6,427.4 892.5,427.7 897.5,427.5C902.5,427.3 920.0,425.6 925.0,425.0C930.0,424.4 944.4,423.0 947.5,422.0C950.6,421.0 954.5,415.9 956.2,415.0C958.0,414.1 963.4,412.9 965.0,413.2C966.6,413.6 972.0,416.8 972.5,418.2C973.0,419.8 970.6,426.8 970.0,428.2C969.4,429.8 965.5,432.2 966.2,433.2C967.0,434.2 974.9,437.0 977.5,438.2C980.1,439.5 989.5,444.0 992.5,445.8C995.5,447.5 1005.1,454.1 1007.5,455.8C1009.9,457.4 1015.6,461.4 1016.5,462.0" fill="none" stroke="#1e90ff" stroke-width="1.875" stroke-dasharray="6.94 3.0" stroke-dashoffset="0"/>
<path d="M230.0,573.4C229.8,573.7 228.7,575.8 228.4,576.2C228.2,576.7 227.9,577.7 227.8,577.8" fill="none" stroke="#1e90ff" stroke-width="1.875" stroke-dasharray="6.94 3.0" stroke-dashoffset="0"/>
<path d="M228.2,583.1C228.3,583.4 228.7,585.4 228.9,585.9C229.1,586.5 230.0,588.0 230.1,588.2" fill="none" stroke="#1e90ff" stroke-width="1.875" stroke-dasharray="6.94 3.0" stroke-dashoffset="0"/>
<path d="M233.8,590.0C234.1,590.1 236.2,591.1 236.9,591.4C237.6,591.6 240.2,592.2 240.6,592.2" fill="none" stroke="#1e90ff" stroke-width="1.875" stroke-dasharray="6.94 3.0" stroke-dashoffset="0"/>
<path d="M244.4,593.1C244.7,593.1 246.9,592.9 247.5,592.8C248.1,592.7 250.4,592.0 250.8,591.9" fill="none" stroke="#1e90ff" stroke-width="1.875" stroke-dasharray="6.94 3.0" stroke-dashoffset="0"/>
<path d="M254.1,590.5C254.3,590.3 256.4,588.9 256.9,588.4C257.3,588.0 258.6,586.4 258.8,586.1" fill="none" stroke="#1e90ff" stroke-width="1.875" stroke-dasharray="6.94 3.0" stroke-dashoffset="0"/>
<path d="M258.1,582.0C258.2,581.7 259.1,579.4 259.4,578.8C259.6,578.1 260.5,575.9 260.6,575.6" fill="none" stroke="#1e90ff" stroke-width="1.875" stroke-dasharray="6.94 3.0" stroke-dashoffset="0"/>
<path d="M262.4,572.4C262.5,572.0 264.0,569.7 264.1,569.1C264.1,568.5 263.2,566.6 263.1,566.4" fill="none" stroke="#1e90ff" stroke-width="1.875" stroke-dasharray="6.94 3.0" stroke-dashoffset="0"/>
<path d="M260.9,564.8C260.6,564.7 258.2,564.0 257.5,563.9C256.8,563.8 254.1,563.8 253.8,563.8" fill="none" stroke="#1e90ff" stroke-width="1.875" stroke-dasharray="6.94 3.0" stroke-dashoffset="0"/>
<path d="M343.5,536.0C343.8,536.2 345.8,537.9 346.5,538.0C347.2,538.1 350.1,537.0 351.0,536.8C351.9,536.6 355.5,536.1 356.0,536.0" fill="none" stroke="#1e90ff" stroke-width="1.875" stroke-dasharray="6.94 3.0" stroke-dashoffset="0"/>
<path d="M348.5,531.2 L354.0,529.0" fill="none" stroke="#1e90ff" stroke-width="1.875" stroke-dasharray="6.94 3.0" stroke-dashoffset="0"/>
<path d="M358.0,526.5C358.3,526.5 360.5,525.8 361.0,526.0C361.5,526.2 362.6,528.7 362.8,529.0" fill="none" stroke="#1e90ff" stroke-width="1.875" stroke-dasharray="6.94 3.0" stroke-dashoffset="0"/>
<path d="M360.5,535.5 L365.5,532.0" fill="none" stroke="#1e90ff" stroke-width="1.875" stroke-dasharray="6.94 3.0" stroke-dashoffset="0"/>
<path d="M314.5,532.2 L317.0,532.8" fill="none" stroke="#1e90ff" stroke-width="1.875" stroke-dasharray="6.94 3.0" stroke-dashoffset="0"/>
<path d="M112.5,464.5 L116.2,472.5" fill="none" stroke="#1e90ff" stroke-width="1.875" stroke-dasharray="6.94 3.0" stroke-dashoffset="0"/>
<path d="M1018.0,463.5C1018.7,463.9 1022.8,466.4 1025.0,467.0C1027.2,467.6 1036.8,469.3 1040.0,470.0C1043.2,470.7 1053.9,473.4 1057.5,474.0C1061.1,474.6 1073.8,475.4 1076.2,476.5C1078.8,477.6 1081.1,482.9 1082.5,484.5C1083.9,486.1 1087.8,491.0 1090.0,492.0C1092.2,493.0 1102.0,494.4 1105.0,494.5C1108.0,494.6 1117.2,492.9 1120.0,492.5C1122.8,492.1 1130.4,490.7 1132.5,490.8C1134.6,490.8 1139.5,492.4 1141.2,493.2C1143.0,494.1 1148.1,498.2 1150.0,499.5C1151.9,500.8 1157.1,504.8 1160.0,505.8C1162.9,506.7 1176.0,507.9 1178.8,509.0C1181.5,510.1 1185.9,515.5 1187.5,517.0C1189.1,518.5 1193.0,523.2 1195.0,524.5C1197.0,525.8 1205.5,529.2 1207.5,530.0C1209.5,530.8 1214.2,532.2 1215.0,532.5" fill="none" stroke="#1e90ff" stroke-width="1.875" stroke-dasharray="6.94 3.0" stroke-dashoffset="0"/></g>
<g id="Llab" style="filter:saturate(1.001)"><text x="422.4" y="129.6" font-size="14" text-anchor="middle" dominant-baseline="central" style="fill:#1e90ff" transform="rotate(-12 422.4 129.6)">48</text>
<text x="714.2" y="258.5" font-size="14" text-anchor="middle" dominant-baseline="central" style="fill:#1e90ff" transform="rotate(3 714.2 258.5)">48</text>
<text x="749.2" y="128.5" font-size="14" text-anchor="middle" dominant-baseline="central" style="fill:#1e90ff" transform="rotate(25 749.2 128.5)">48</text>
<text x="788.8" y="155.0" font-size="14" text-anchor="middle" dominant-baseline="central" style="fill:#1e90ff" transform="rotate(35 788.8 155.0)">48</text>
<text x="1020.5" y="245.2" font-size="14" text-anchor="middle" dominant-baseline="central" style="fill:#1e90ff" transform="rotate(36 1020.5 245.2)">48</text>
<text x="352.5" y="361.0" font-size="14" text-anchor="middle" dominant-baseline="central" style="fill:#1e90ff" transform="rotate(0 352.5 361.0)">48</text>
<text x="115.4" y="428.7" font-size="14" text-anchor="middle" dominant-baseline="central" style="fill:#1e90ff" transform="rotate(-8 115.4 428.7)">48</text>
<text x="700.5" y="431.8" font-size="14" text-anchor="middle" dominant-baseline="central" style="fill:#1e90ff" transform="rotate(-15 700.5 431.8)">48</text>
<text x="240.9" y="566.8" font-size="14" text-anchor="middle" dominant-baseline="central" style="fill:#1e90ff" transform="rotate(-20 240.9 566.8)">48</text>
<text x="333.5" y="540.6" font-size="14" text-anchor="middle" dominant-baseline="central" style="fill:#1e90ff" transform="rotate(-15 333.5 540.6)">48</text>
<text x="112.0" y="481.0" font-size="14" text-anchor="middle" dominant-baseline="central" style="fill:#1e90ff" transform="rotate(-70 112.0 481.0)">48</text></g>
<g id="Ltop"><line x1="716.6" y1="127.9" x2="660.95" y2="415.6" stroke="#0000fa" stroke-width="2.25"/>
<polygon points="847.50,419.70 849.12,424.48 854.16,424.54 850.12,427.55 851.61,432.36 847.50,429.45 843.39,432.36 844.88,427.55 840.84,424.54 845.88,424.48" fill="#000" stroke="#000" stroke-width="1" stroke-linejoin="miter"/></g>
</g>
<rect x="109.7" y="62.4" width="1102.0" height="643.0" fill="none" stroke="#000" stroke-width="2.6"/>
<line x1="201.53" y1="706.6" x2="201.53" y2="718.6" stroke="#000" stroke-width="2.6"/>
<line x1="385.20" y1="706.6" x2="385.20" y2="718.6" stroke="#000" stroke-width="2.6"/>
<line x1="568.87" y1="706.6" x2="568.87" y2="718.6" stroke="#000" stroke-width="2.6"/>
<line x1="752.53" y1="706.6" x2="752.53" y2="718.6" stroke="#000" stroke-width="2.6"/>
<line x1="936.20" y1="706.6" x2="936.20" y2="718.6" stroke="#000" stroke-width="2.6"/>
<line x1="1119.87" y1="706.6" x2="1119.87" y2="718.6" stroke="#000" stroke-width="2.6"/>
<line x1="108.5" y1="154.23" x2="97.10000000000001" y2="154.23" stroke="#000" stroke-width="2.6"/>
<line x1="108.5" y1="337.90" x2="97.10000000000001" y2="337.90" stroke="#000" stroke-width="2.6"/>
<line x1="108.5" y1="521.57" x2="97.10000000000001" y2="521.57" stroke="#000" stroke-width="2.6"/>
<line x1="108.5" y1="705.23" x2="97.10000000000001" y2="705.23" stroke="#000" stroke-width="2.6"/>
<rect x="1279.6" y="88.50" width="30.0" height="118.69" fill="#211a38"/>
<rect x="1279.6" y="206.69" width="30.0" height="118.69" fill="#16586a"/>
<rect x="1279.6" y="324.88" width="30.0" height="118.69" fill="#408f70"/>
<rect x="1279.6" y="443.07" width="30.0" height="118.69" fill="#b5b38b"/>
<rect x="1279.6" y="561.26" width="30.0" height="118.69" fill="#eeedf3"/>
<rect x="1279.6" y="88.5" width="30.0" height="590.95" fill="none" stroke="#000" stroke-width="2.9"/>
<line x1="1310.8999999999999" y1="88.50" x2="1322.7" y2="88.50" stroke="#000" stroke-width="2.7"/>
<line x1="1310.8999999999999" y1="206.69" x2="1322.7" y2="206.69" stroke="#000" stroke-width="2.7"/>
<line x1="1310.8999999999999" y1="324.88" x2="1322.7" y2="324.88" stroke="#000" stroke-width="2.7"/>
<line x1="1310.8999999999999" y1="443.07" x2="1322.7" y2="443.07" stroke="#000" stroke-width="2.7"/>
<line x1="1310.8999999999999" y1="561.26" x2="1322.7" y2="561.26" stroke="#000" stroke-width="2.7"/>
<line x1="1310.8999999999999" y1="679.45" x2="1322.7" y2="679.45" stroke="#000" stroke-width="2.7"/>
<rect x="819.9" y="661.0" width="363.2" height="32.7" fill="#fff"/>
<g class="gt"><text x="177.52" y="739.7" font-size="24.2" textLength="17.70" lengthAdjust="spacingAndGlyphs" >−</text>
<text x="195.23" y="739.7" font-size="24.2" textLength="28.94" lengthAdjust="spacingAndGlyphs" >60</text>
<text x="361.18" y="739.7" font-size="24.2" textLength="17.70" lengthAdjust="spacingAndGlyphs" >−</text>
<text x="379.17" y="739.7" font-size="24.2" textLength="28.66" lengthAdjust="spacingAndGlyphs" >50</text>
<text x="544.85" y="739.7" font-size="24.2" textLength="17.70" lengthAdjust="spacingAndGlyphs" >−</text>
<text x="563.30" y="739.7" font-size="24.2" textLength="28.18" lengthAdjust="spacingAndGlyphs" >40</text>
<text x="728.52" y="739.7" font-size="24.2" textLength="17.70" lengthAdjust="spacingAndGlyphs" >−</text>
<text x="746.58" y="739.7" font-size="24.2" textLength="28.37" lengthAdjust="spacingAndGlyphs" >30</text>
<text x="912.18" y="739.7" font-size="24.2" textLength="17.70" lengthAdjust="spacingAndGlyphs" >−</text>
<text x="929.90" y="739.7" font-size="24.2" textLength="28.94" lengthAdjust="spacingAndGlyphs" >20</text>
<text x="1095.85" y="739.7" font-size="24.2" textLength="17.70" lengthAdjust="spacingAndGlyphs" >−</text>
<text x="1112.87" y="739.7" font-size="24.2" textLength="29.66" lengthAdjust="spacingAndGlyphs" >10</text>
<text x="62.50" y="162.73" font-size="24.2" textLength="28.83" lengthAdjust="spacingAndGlyphs" >20</text>
<text x="63.65" y="346.40" font-size="24.2" textLength="27.43" lengthAdjust="spacingAndGlyphs" >10</text>
<text x="77.95" y="530.07" font-size="24.2" textLength="13.28" lengthAdjust="spacingAndGlyphs" >0</text>
<text x="62.34" y="713.73" font-size="24.2" textLength="29.10" lengthAdjust="spacingAndGlyphs" >10</text>
<text x="44.58" y="713.73" font-size="24.2" textLength="17.70" lengthAdjust="spacingAndGlyphs" >−</text>
<text x="452.46" y="53.7" font-size="26.4" textLength="59.63" lengthAdjust="spacingAndGlyphs" >Valid</text>
<text x="520.85" y="53.7" font-size="26.4" textLength="65.04" lengthAdjust="spacingAndGlyphs" >time:</text>
<text x="593.19" y="53.7" font-size="26.4" textLength="144.42" lengthAdjust="spacingAndGlyphs" >2024-08-23</text>
<text x="747.62" y="53.7" font-size="26.4" textLength="120.28" lengthAdjust="spacingAndGlyphs" >12:00UTC</text>
<text x="570.45" y="770.1" font-size="26.4" textLength="125.18" lengthAdjust="spacingAndGlyphs" >Longitude</text>
<text x="704.00" y="770.1" font-size="26.4" textLength="8.01" lengthAdjust="spacingAndGlyphs" >/</text>
<text x="720.01" y="770.1" font-size="26.4" textLength="28.30" lengthAdjust="spacingAndGlyphs" >°E</text>
<g transform="translate(32.2,800) rotate(-90)"><text x="336.12" y="0" font-size="26.4" textLength="102.54" lengthAdjust="spacingAndGlyphs" >Latitude</text><text x="447.10" y="0" font-size="26.4" textLength="8.31" lengthAdjust="spacingAndGlyphs" >/</text><text x="464.28" y="0" font-size="26.4" textLength="30.23" lengthAdjust="spacingAndGlyphs" >°N</text></g>
<text x="1327.20" y="96.80" font-size="24.2" textLength="42.28" lengthAdjust="spacingAndGlyphs" >100</text>
<text x="1327.49" y="214.99" font-size="24.2" textLength="26.94" lengthAdjust="spacingAndGlyphs" >75</text>
<text x="1327.62" y="333.18" font-size="24.2" textLength="27.36" lengthAdjust="spacingAndGlyphs" >50</text>
<text x="1327.37" y="451.37" font-size="24.2" textLength="27.26" lengthAdjust="spacingAndGlyphs" >25</text>
<text x="1327.90" y="569.56" font-size="24.2" textLength="12.53" lengthAdjust="spacingAndGlyphs" >5</text>
<text x="1327.55" y="687.75" font-size="24.2" textLength="13.28" lengthAdjust="spacingAndGlyphs" >0</text>
<g transform="translate(1398,800) rotate(-90)"><text x="229.40" y="0" font-size="26.4" textLength="68.61" lengthAdjust="spacingAndGlyphs" >mean</text><text x="306.88" y="0" font-size="26.4" textLength="86.25" lengthAdjust="spacingAndGlyphs" >precip.</text><text x="400.46" y="0" font-size="26.4" textLength="51.32" lengthAdjust="spacingAndGlyphs" >rate</text><text x="459.10" y="0" font-size="26.4" textLength="8.51" lengthAdjust="spacingAndGlyphs" >/</text><text x="475.10" y="0" font-size="26.4" textLength="49.46" lengthAdjust="spacingAndGlyphs" >mm</text><text x="531.81" y="0" font-size="26.4" textLength="45.26" lengthAdjust="spacingAndGlyphs" >day</text><text x="580.63" y="-11.5" font-size="18.4" textLength="12.52" lengthAdjust="spacingAndGlyphs" >−</text><text x="593.62" y="-11.5" font-size="18.4" textLength="9.52" lengthAdjust="spacingAndGlyphs" >1</text></g>
<text x="824.46" y="674.9" font-size="11.0" textLength="34.32" lengthAdjust="spacingAndGlyphs" >Latest</text>
<text x="862.47" y="674.9" font-size="11.0" textLength="42.50" lengthAdjust="spacingAndGlyphs" >ECMWF</text>
<text x="907.50" y="674.9" font-size="11.0" textLength="16.90" lengthAdjust="spacingAndGlyphs" >IFS</text>
<text x="928.11" y="674.9" font-size="11.0" textLength="44.38" lengthAdjust="spacingAndGlyphs" >forecast</text>
<text x="976.00" y="674.9" font-size="11.0" textLength="72.70" lengthAdjust="spacingAndGlyphs" >initialization:</text>
<text x="1051.27" y="674.9" font-size="11.0" textLength="64.88" lengthAdjust="spacingAndGlyphs" >2024-08-23</text>
<text x="1119.90" y="674.9" font-size="11.0" textLength="31.48" lengthAdjust="spacingAndGlyphs" >00:00</text>
<text x="1155.57" y="674.9" font-size="11.0" textLength="21.93" lengthAdjust="spacingAndGlyphs" >UTC</text>
<text x="824.92" y="687.1" font-size="11.0" textLength="45.63" lengthAdjust="spacingAndGlyphs" >Satellite</text>
<text x="874.21" y="687.1" font-size="11.0" textLength="34.24" lengthAdjust="spacingAndGlyphs" >tracks</text>
<text x="912.01" y="687.1" font-size="11.0" textLength="43.97" lengthAdjust="spacingAndGlyphs" >forecast</text>
<text x="959.37" y="687.1" font-size="11.0" textLength="35.51" lengthAdjust="spacingAndGlyphs" >issued</text>
<text x="999.34" y="687.1" font-size="11.0" textLength="18.24" lengthAdjust="spacingAndGlyphs" >on:</text>
<text x="1020.16" y="687.1" font-size="11.0" textLength="65.04" lengthAdjust="spacingAndGlyphs" >2024-08-21</text>
<text x="1089.30" y="687.1" font-size="11.0" textLength="31.37" lengthAdjust="spacingAndGlyphs" >00:00</text>
<text x="1124.47" y="687.1" font-size="11.0" textLength="21.93" lengthAdjust="spacingAndGlyphs" >UTC</text></g>
</svg>
</body></html>
